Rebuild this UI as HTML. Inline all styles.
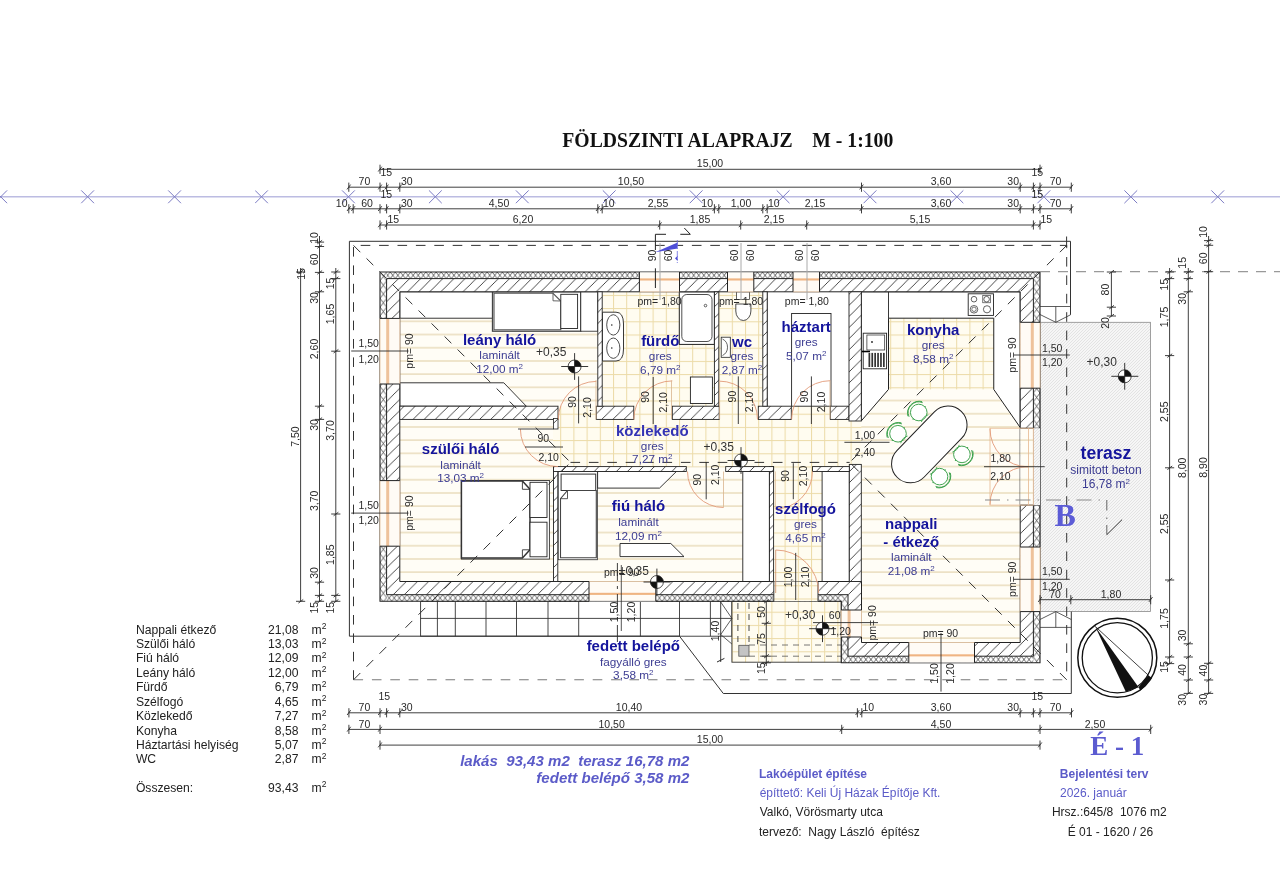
<!DOCTYPE html><html><head><meta charset="utf-8"><title>Földszinti alaprajz</title><style>html,body{margin:0;padding:0;background:#fff;width:1280px;height:874px;overflow:hidden}</style></head><body><svg width="1280" height="874" viewBox="0 0 1280 874" style="display:block;will-change:transform"><defs><pattern id="hatch" patternUnits="userSpaceOnUse" width="11.1" height="11.1"><rect width="11.1" height="11.1" fill="#fff"/><path d="M-1,12.1 L12.1,-1 M-1,1 L1,-1 M10.1,12.1 L12.1,10.1" stroke="#333" stroke-width="0.9"/></pattern><pattern id="lam" patternUnits="userSpaceOnUse" x="0" y="334.5" width="20" height="13.2"><rect width="20" height="13.2" fill="#fffdf6"/><rect x="0" y="-0.6" width="20" height="1.3" fill="#e6d8b4"/><rect x="0" y="12.6" width="20" height="1.3" fill="#e6d8b4"/></pattern><pattern id="tile" patternUnits="userSpaceOnUse" x="613" y="334.5" width="13.2" height="13.2"><rect width="13.2" height="13.2" fill="#fffcf0"/><rect x="0" y="0" width="13.2" height="1" fill="#ecdba8"/><rect x="0" y="0" width="1" height="13.2" fill="#ecdba8"/></pattern><pattern id="ter" patternUnits="userSpaceOnUse" width="3" height="3"><rect width="3" height="3" fill="#f6f6f6"/><path d="M-1,4 L4,-1 M-1,1 L1,-1 M2,4 L4,2" stroke="#dedede" stroke-width="0.8"/></pattern><pattern id="iH1" patternUnits="userSpaceOnUse" x="380.00" y="272.00" width="5.1" height="6.60"><rect width="5.1" height="6.60" fill="#fff"/><path d="M0,0 L5.1,6.60 M5.1,0 L0,6.60" stroke="#333" stroke-width="0.75"/></pattern><pattern id="iH2" patternUnits="userSpaceOnUse" x="386.60" y="594.70" width="5.1" height="6.60"><rect width="5.1" height="6.60" fill="#fff"/><path d="M0,0 L5.1,6.60 M5.1,0 L0,6.60" stroke="#333" stroke-width="0.75"/></pattern><pattern id="iH3" patternUnits="userSpaceOnUse" x="848.00" y="656.20" width="5.1" height="6.60"><rect width="5.1" height="6.60" fill="#fff"/><path d="M0,0 L5.1,6.60 M5.1,0 L0,6.60" stroke="#333" stroke-width="0.75"/></pattern><pattern id="iV4" patternUnits="userSpaceOnUse" x="380.00" y="272.00" width="6.60" height="8.8"><rect width="6.60" height="8.8" fill="#fff"/><path d="M0,0 L6.60,8.8 M6.60,0 L0,8.8" stroke="#333" stroke-width="0.75"/></pattern><pattern id="iV5" patternUnits="userSpaceOnUse" x="1033.40" y="278.60" width="6.60" height="8.8"><rect width="6.60" height="8.8" fill="#fff"/><path d="M0,0 L6.60,8.8 M6.60,0 L0,8.8" stroke="#333" stroke-width="0.75"/></pattern><pattern id="iV6" patternUnits="userSpaceOnUse" x="841.30" y="594.70" width="6.70" height="8.8"><rect width="6.70" height="8.8" fill="#fff"/><path d="M0,0 L6.70,8.8 M6.70,0 L0,8.8" stroke="#333" stroke-width="0.75"/></pattern></defs><rect x="0.00" y="0.00" width="1280.00" height="874.00" fill="#fff" stroke="none" stroke-width="1" />
<rect x="1040.00" y="322.30" width="110.60" height="289.30" fill="url(#ter)" stroke="#8a8a8a" stroke-width="0.8" />
<rect x="420.60" y="601.30" width="311.30" height="34.90" fill="#fff" stroke="#333" stroke-width="0.9" />
<line x1="420.60" y1="618.40" x2="731.90" y2="618.40" stroke="#333" stroke-width="0.9" />
<line x1="437.40" y1="601.30" x2="437.40" y2="636.20" stroke="#333" stroke-width="0.9" />
<line x1="455.30" y1="601.30" x2="455.30" y2="636.20" stroke="#333" stroke-width="0.9" />
<line x1="486.00" y1="601.30" x2="486.00" y2="636.20" stroke="#333" stroke-width="0.9" />
<line x1="516.50" y1="601.30" x2="516.50" y2="636.20" stroke="#333" stroke-width="0.9" />
<line x1="548.00" y1="601.30" x2="548.00" y2="636.20" stroke="#333" stroke-width="0.9" />
<line x1="578.70" y1="601.30" x2="578.70" y2="636.20" stroke="#333" stroke-width="0.9" />
<line x1="640.40" y1="601.30" x2="640.40" y2="636.20" stroke="#333" stroke-width="0.9" />
<line x1="679.50" y1="601.30" x2="679.50" y2="636.20" stroke="#333" stroke-width="0.9" />
<line x1="710.40" y1="601.30" x2="710.40" y2="636.20" stroke="#333" stroke-width="0.9" />
<rect x="731.90" y="601.30" width="109.40" height="60.90" fill="url(#tile)" stroke="#333" stroke-width="0.9" />
<polygon points="399.80,291.80 1020.20,291.80 1020.20,642.50 861.50,642.50 861.50,581.50 399.80,581.50" fill="url(#lam)" stroke="none" stroke-width="1" />
<rect x="602.20" y="291.80" width="112.20" height="114.40" fill="url(#tile)" stroke="none" stroke-width="1" />
<rect x="718.80" y="291.80" width="44.00" height="114.40" fill="url(#tile)" stroke="none" stroke-width="1" />
<rect x="767.20" y="291.80" width="81.80" height="114.40" fill="#fff" stroke="none" stroke-width="1" />
<rect x="553.00" y="406.20" width="308.30" height="60.40" fill="url(#tile)" stroke="none" stroke-width="1" />
<rect x="773.60" y="466.60" width="75.70" height="114.90" fill="url(#tile)" stroke="none" stroke-width="1" />
<rect x="861.30" y="291.80" width="158.90" height="97.60" fill="url(#tile)" stroke="none" stroke-width="1" />
<rect x="399.80" y="291.80" width="92.70" height="26.40" fill="#fff" stroke="#222" stroke-width="0.9" />
<rect x="492.50" y="291.80" width="88.30" height="39.40" fill="#fff" stroke="#444" stroke-width="1.3" />
<polygon points="494.00,293.30 553.00,293.30 560.80,301.00 560.80,329.80 494.00,329.80" fill="#fff" stroke="#555" stroke-width="1.1" />
<polyline points="553.00,293.30 553.00,300.80 560.80,301.00" fill="none" stroke="#555" stroke-width="0.9" />
<rect x="560.80" y="294.30" width="16.80" height="34.20" fill="#fff" stroke="#222" stroke-width="0.9" />
<rect x="580.80" y="291.80" width="17.00" height="39.40" fill="#fff" stroke="#222" stroke-width="0.8" />
<polygon points="399.80,382.80 503.80,382.80 526.30,406.20 399.80,406.20" fill="#fff" stroke="#222" stroke-width="0.9" />
<rect x="461.40" y="480.50" width="88.00" height="78.60" fill="#fff" stroke="#333" stroke-width="0.9" />
<polygon points="461.40,481.10 522.40,481.10 530.00,489.30 530.00,549.80 522.40,557.90 461.40,557.90" fill="#fff" stroke="#333" stroke-width="1.5" />
<polyline points="522.40,481.10 522.40,489.30 530.00,489.30" fill="none" stroke="#333" stroke-width="0.9" />
<polyline points="522.40,557.90 522.40,549.80 530.00,549.80" fill="none" stroke="#333" stroke-width="0.9" />
<rect x="530.00" y="482.30" width="17.00" height="35.20" fill="#fff" stroke="#222" stroke-width="0.9" />
<rect x="530.00" y="522.20" width="17.00" height="34.60" fill="#fff" stroke="#222" stroke-width="0.9" />
<rect x="558.20" y="471.50" width="39.20" height="88.20" fill="#fff" stroke="#444" stroke-width="0.9" />
<rect x="561.10" y="474.10" width="34.60" height="16.40" fill="#fff" stroke="#333" stroke-width="1" />
<polygon points="567.50,490.50 596.30,490.50 596.30,557.80 560.50,557.80 560.50,498.70" fill="#fff" stroke="#444" stroke-width="1.1" />
<polyline points="567.50,490.50 567.50,498.70 560.50,498.70" fill="none" stroke="#444" stroke-width="0.9" />
<polygon points="597.60,471.50 676.40,471.50 659.50,488.10 597.60,488.10" fill="#fff" stroke="#222" stroke-width="0.9" />
<polygon points="620.00,543.50 670.80,543.50 684.00,556.60 620.00,556.60" fill="#fff" stroke="#222" stroke-width="0.9" />
<rect x="742.80" y="471.50" width="26.60" height="110.00" fill="#fff" stroke="#222" stroke-width="0.9" />
<rect x="822.10" y="471.50" width="27.20" height="110.00" fill="#fff" stroke="#222" stroke-width="0.9" />
<path d="M602.5,312.2 L616,312.2 Q623.5,312.2 623.5,324 L623.5,349 Q623.5,361 616,361 L602.5,361 Z" fill="#fff" stroke="#222" stroke-width="0.9"/>
<ellipse cx="613.3" cy="324.9" rx="6.6" ry="10.2" fill="#fff" stroke="#222" stroke-width="0.8"/>
<ellipse cx="613.3" cy="348.2" rx="6.6" ry="10.2" fill="#fff" stroke="#222" stroke-width="0.8"/>
<circle cx="611.8" cy="325" r="0.8" fill="#222"/><circle cx="611.8" cy="348" r="0.8" fill="#222"/>
<rect x="679.30" y="291.80" width="35.10" height="52.60" fill="#fff" stroke="#222" stroke-width="1" />
<rect x="681.8" y="294.5" width="30.2" height="47" rx="5" fill="#fff" stroke="#222" stroke-width="0.8"/>
<circle cx="705.5" cy="305.6" r="1.3" fill="none" stroke="#222" stroke-width="0.7"/>
<rect x="690.40" y="377.00" width="22.00" height="26.50" fill="#fff" stroke="#222" stroke-width="0.9" />
<rect x="736.50" y="291.80" width="13.00" height="7.70" fill="#fff" stroke="#222" stroke-width="0.7" />
<path d="M735.8,304 L750.9,304 L750.9,311 A7.55,9.5 0 0 1 735.8,311 Z" fill="#fff" stroke="#222" stroke-width="0.8"/>
<rect x="721.20" y="337.20" width="9.10" height="20.10" fill="#fff" stroke="#222" stroke-width="0.8" />
<path d="M722.5,339 A9,9.2 0 0 1 722.5,355.5" fill="none" stroke="#222" stroke-width="0.7"/>
<rect x="791.60" y="313.50" width="39.40" height="92.70" fill="none" stroke="#222" stroke-width="0.9" />
<line x1="767.20" y1="291.80" x2="767.20" y2="406.20" stroke="#222" stroke-width="0.8" />
<polygon points="861.30,291.80 1020.20,291.80 1020.20,427.50 993.75,389.40 993.75,318.20 888.50,318.20 888.50,389.40 861.30,420.90" fill="#fff" stroke="#222" stroke-width="1" />
<line x1="888.50" y1="291.80" x2="888.50" y2="318.20" stroke="#222" stroke-width="0.9" />
<rect x="968.20" y="293.80" width="25.30" height="21.60" fill="#fff" stroke="#222" stroke-width="0.9" />
<circle cx="974" cy="299.2" r="2.8" fill="none" stroke="#222" stroke-width="0.7"/>
<circle cx="986.6" cy="299.2" r="2.8" fill="none" stroke="#222" stroke-width="0.7"/>
<rect x="982.80" y="295.60" width="7.60" height="7.20" fill="none" stroke="#222" stroke-width="0.6" />
<circle cx="974" cy="309.3" r="3.8" fill="none" stroke="#222" stroke-width="0.7"/><circle cx="974" cy="309.3" r="2.2" fill="none" stroke="#222" stroke-width="0.6"/>
<circle cx="987" cy="309.3" r="3.6" fill="none" stroke="#222" stroke-width="0.7"/>
<rect x="863.20" y="333.20" width="23.40" height="35.60" fill="#fff" stroke="#222" stroke-width="0.9" />
<rect x="866.90" y="335.00" width="17.80" height="15.00" fill="#fff" stroke="#222" stroke-width="0.7" />
<circle cx="872" cy="342" r="0.9" fill="#222"/>
<rect x="868.50" y="352.90" width="1.70" height="14.10" fill="#333" stroke="none" stroke-width="1" />
<rect x="871.40" y="352.90" width="1.70" height="14.10" fill="#333" stroke="none" stroke-width="1" />
<rect x="874.30" y="352.90" width="1.70" height="14.10" fill="#333" stroke="none" stroke-width="1" />
<rect x="877.20" y="352.90" width="1.70" height="14.10" fill="#333" stroke="none" stroke-width="1" />
<rect x="880.10" y="352.90" width="1.70" height="14.10" fill="#333" stroke="none" stroke-width="1" />
<rect x="883.00" y="352.90" width="1.70" height="14.10" fill="#333" stroke="none" stroke-width="1" />
<line x1="861.30" y1="351.50" x2="870.00" y2="351.50" stroke="#000" stroke-width="1.6" />
<g transform="translate(929.3,444.4) rotate(-46)"><rect x="-46" y="-19" width="92" height="38" rx="19" ry="19" fill="#fff" stroke="#222" stroke-width="1"/></g>
<g transform="translate(918.75,412.50) rotate(-136.0)"><circle r="8.3" fill="#fff" stroke="#3aa04a" stroke-width="0.9"/><path d="M-8.5,-5 A10,10 0 0 1 -8.5,5" fill="none" stroke="#3aa04a" stroke-width="0.8"/><path d="M4,-9.8 A10.6,10.6 0 0 1 4,9.8" fill="none" stroke="#3aa04a" stroke-width="0.9"/><path d="M5.2,-10.2 A11.8,11.8 0 0 1 5.2,10.2" fill="none" stroke="#3aa04a" stroke-width="0.9"/><path d="M-1,-9 L0,-8.3 M-1,9 L0,8.3" stroke="#3aa04a" stroke-width="1.2"/></g>
<g transform="translate(898.00,433.75) rotate(-136.0)"><circle r="8.3" fill="#fff" stroke="#3aa04a" stroke-width="0.9"/><path d="M-8.5,-5 A10,10 0 0 1 -8.5,5" fill="none" stroke="#3aa04a" stroke-width="0.8"/><path d="M4,-9.8 A10.6,10.6 0 0 1 4,9.8" fill="none" stroke="#3aa04a" stroke-width="0.9"/><path d="M5.2,-10.2 A11.8,11.8 0 0 1 5.2,10.2" fill="none" stroke="#3aa04a" stroke-width="0.9"/><path d="M-1,-9 L0,-8.3 M-1,9 L0,8.3" stroke="#3aa04a" stroke-width="1.2"/></g>
<g transform="translate(961.90,454.40) rotate(44.0)"><circle r="8.3" fill="#fff" stroke="#3aa04a" stroke-width="0.9"/><path d="M-8.5,-5 A10,10 0 0 1 -8.5,5" fill="none" stroke="#3aa04a" stroke-width="0.8"/><path d="M4,-9.8 A10.6,10.6 0 0 1 4,9.8" fill="none" stroke="#3aa04a" stroke-width="0.9"/><path d="M5.2,-10.2 A11.8,11.8 0 0 1 5.2,10.2" fill="none" stroke="#3aa04a" stroke-width="0.9"/><path d="M-1,-9 L0,-8.3 M-1,9 L0,8.3" stroke="#3aa04a" stroke-width="1.2"/></g>
<g transform="translate(939.50,476.60) rotate(44.0)"><circle r="8.3" fill="#fff" stroke="#3aa04a" stroke-width="0.9"/><path d="M-8.5,-5 A10,10 0 0 1 -8.5,5" fill="none" stroke="#3aa04a" stroke-width="0.8"/><path d="M4,-9.8 A10.6,10.6 0 0 1 4,9.8" fill="none" stroke="#3aa04a" stroke-width="0.9"/><path d="M5.2,-10.2 A11.8,11.8 0 0 1 5.2,10.2" fill="none" stroke="#3aa04a" stroke-width="0.9"/><path d="M-1,-9 L0,-8.3 M-1,9 L0,8.3" stroke="#3aa04a" stroke-width="1.2"/></g>
<rect x="738.80" y="645.30" width="10.20" height="10.90" fill="#c4c4c4" stroke="#555" stroke-width="0.8" />
<line x1="737.90" y1="603.00" x2="737.90" y2="645.00" stroke="#333" stroke-width="0.9" stroke-dasharray="6,5"/>
<line x1="749.00" y1="603.00" x2="749.00" y2="645.00" stroke="#333" stroke-width="0.9" stroke-dasharray="6,5"/>
<line x1="749.00" y1="645.00" x2="841.00" y2="645.00" stroke="#555" stroke-width="0.8" stroke-dasharray="6,5"/>
<line x1="749.00" y1="656.20" x2="841.00" y2="656.20" stroke="#555" stroke-width="0.8" stroke-dasharray="6,5"/>
<polyline points="720.70,602.00 731.90,618.40 720.70,634.50" fill="none" stroke="#333" stroke-width="0.8" />
<line x1="720.70" y1="634.50" x2="731.90" y2="644.00" stroke="#333" stroke-width="0.8" />
<rect x="380.00" y="272.00" width="660.00" height="6.60" fill="url(#iH1)" stroke="none" stroke-width="1" />
<rect x="386.60" y="594.70" width="454.70" height="6.60" fill="url(#iH2)" stroke="none" stroke-width="1" />
<rect x="848.00" y="656.20" width="192.00" height="6.60" fill="url(#iH3)" stroke="none" stroke-width="1" />
<rect x="380.00" y="272.00" width="6.60" height="329.30" fill="url(#iV4)" stroke="none" stroke-width="1" />
<rect x="1033.40" y="278.60" width="6.60" height="384.20" fill="url(#iV5)" stroke="none" stroke-width="1" />
<rect x="841.30" y="594.70" width="6.70" height="68.10" fill="url(#iV6)" stroke="none" stroke-width="1" />
<path d="M386.60,278.60 L1033.40,278.60 L1033.40,656.20 L848.00,656.20 L848.00,594.70 L386.60,594.70 Z M399.80,291.80 L1020.20,291.80 L1020.20,642.50 L861.50,642.50 L861.50,581.50 L399.80,581.50 Z" fill="url(#hatch)" fill-rule="evenodd" stroke="#222" stroke-width="1"/>
<polygon points="380.00,272.00 1040.00,272.00 1040.00,662.80 841.30,662.80 841.30,601.30 380.00,601.30" fill="none" stroke="#222" stroke-width="1.1" />
<rect x="399.80" y="406.20" width="158.20" height="13.20" fill="url(#hatch)" stroke="#222" stroke-width="0.9" />
<rect x="553.40" y="418.40" width="4.60" height="10.60" fill="url(#hatch)" stroke="#222" stroke-width="0.8" />
<rect x="596.30" y="406.20" width="37.50" height="13.20" fill="url(#hatch)" stroke="#222" stroke-width="0.9" />
<rect x="672.30" y="406.20" width="46.90" height="13.20" fill="url(#hatch)" stroke="#222" stroke-width="0.9" />
<rect x="758.30" y="406.20" width="33.00" height="13.20" fill="url(#hatch)" stroke="#222" stroke-width="0.9" />
<rect x="830.30" y="406.20" width="18.70" height="13.20" fill="url(#hatch)" stroke="#222" stroke-width="0.9" />
<rect x="849.00" y="291.80" width="12.30" height="129.20" fill="url(#hatch)" stroke="#222" stroke-width="0.9" />
<rect x="849.30" y="464.40" width="12.00" height="117.10" fill="url(#hatch)" stroke="#222" stroke-width="0.9" />
<rect x="597.80" y="291.80" width="4.40" height="114.40" fill="url(#hatch)" stroke="#222" stroke-width="0.9" />
<rect x="714.40" y="291.80" width="4.40" height="114.40" fill="url(#hatch)" stroke="#222" stroke-width="0.9" />
<rect x="762.80" y="291.80" width="4.40" height="114.40" fill="url(#hatch)" stroke="#222" stroke-width="0.9" />
<rect x="553.50" y="466.60" width="4.30" height="114.90" fill="url(#hatch)" stroke="#222" stroke-width="0.9" />
<rect x="769.40" y="466.60" width="4.20" height="114.90" fill="url(#hatch)" stroke="#222" stroke-width="0.9" />
<rect x="553.50" y="466.60" width="132.80" height="4.90" fill="url(#hatch)" stroke="#222" stroke-width="0.9" />
<rect x="725.70" y="466.60" width="47.90" height="4.90" fill="url(#hatch)" stroke="#222" stroke-width="0.9" />
<rect x="812.50" y="466.60" width="36.80" height="4.90" fill="url(#hatch)" stroke="#222" stroke-width="0.9" />
<rect x="639.40" y="272.00" width="40.10" height="19.80" fill="#fffbf5" stroke="none" stroke-width="1" />
<line x1="639.40" y1="272.00" x2="679.50" y2="272.00" stroke="#999" stroke-width="0.9" />
<line x1="639.40" y1="291.80" x2="679.50" y2="291.80" stroke="#e2c4a4" stroke-width="0.9" />
<rect x="639.40" y="278.40" width="40.10" height="2.10" fill="#efb482" stroke="none" stroke-width="1" />
<line x1="639.40" y1="272.00" x2="639.40" y2="291.80" stroke="#222" stroke-width="1" />
<line x1="679.50" y1="272.00" x2="679.50" y2="291.80" stroke="#222" stroke-width="1" />
<rect x="727.50" y="272.00" width="26.30" height="19.80" fill="#fffbf5" stroke="none" stroke-width="1" />
<line x1="727.50" y1="272.00" x2="753.80" y2="272.00" stroke="#999" stroke-width="0.9" />
<line x1="727.50" y1="291.80" x2="753.80" y2="291.80" stroke="#e2c4a4" stroke-width="0.9" />
<rect x="727.50" y="278.40" width="26.30" height="2.10" fill="#efb482" stroke="none" stroke-width="1" />
<line x1="727.50" y1="272.00" x2="727.50" y2="291.80" stroke="#222" stroke-width="1" />
<line x1="753.80" y1="272.00" x2="753.80" y2="291.80" stroke="#222" stroke-width="1" />
<rect x="793.00" y="272.00" width="26.50" height="19.80" fill="#fffbf5" stroke="none" stroke-width="1" />
<line x1="793.00" y1="272.00" x2="819.50" y2="272.00" stroke="#999" stroke-width="0.9" />
<line x1="793.00" y1="291.80" x2="819.50" y2="291.80" stroke="#e2c4a4" stroke-width="0.9" />
<rect x="793.00" y="278.40" width="26.50" height="2.10" fill="#efb482" stroke="none" stroke-width="1" />
<line x1="793.00" y1="272.00" x2="793.00" y2="291.80" stroke="#222" stroke-width="1" />
<line x1="819.50" y1="272.00" x2="819.50" y2="291.80" stroke="#222" stroke-width="1" />
<rect x="380.00" y="318.40" width="19.80" height="65.60" fill="#fffbf5" stroke="none" stroke-width="1" />
<line x1="380.00" y1="318.40" x2="380.00" y2="384.00" stroke="#e2c4a4" stroke-width="0.9" />
<line x1="399.80" y1="318.40" x2="399.80" y2="384.00" stroke="#e2c4a4" stroke-width="0.9" />
<rect x="386.20" y="318.40" width="3.00" height="65.60" fill="#eec29c" stroke="none" stroke-width="1" />
<line x1="380.00" y1="318.40" x2="399.80" y2="318.40" stroke="#222" stroke-width="1" />
<line x1="380.00" y1="384.00" x2="399.80" y2="384.00" stroke="#222" stroke-width="1" />
<rect x="380.00" y="480.60" width="19.80" height="65.60" fill="#fffbf5" stroke="none" stroke-width="1" />
<line x1="380.00" y1="480.60" x2="380.00" y2="546.20" stroke="#e2c4a4" stroke-width="0.9" />
<line x1="399.80" y1="480.60" x2="399.80" y2="546.20" stroke="#e2c4a4" stroke-width="0.9" />
<rect x="386.20" y="480.60" width="3.00" height="65.60" fill="#eec29c" stroke="none" stroke-width="1" />
<line x1="380.00" y1="480.60" x2="399.80" y2="480.60" stroke="#222" stroke-width="1" />
<line x1="380.00" y1="546.20" x2="399.80" y2="546.20" stroke="#222" stroke-width="1" />
<rect x="1020.20" y="322.30" width="19.80" height="65.90" fill="#fffbf5" stroke="none" stroke-width="1" />
<line x1="1040.00" y1="322.30" x2="1040.00" y2="388.20" stroke="#e2c4a4" stroke-width="0.9" />
<line x1="1020.20" y1="322.30" x2="1020.20" y2="388.20" stroke="#e2c4a4" stroke-width="0.9" />
<rect x="1030.80" y="322.30" width="3.00" height="65.90" fill="#eec29c" stroke="none" stroke-width="1" />
<line x1="1020.20" y1="322.30" x2="1040.00" y2="322.30" stroke="#222" stroke-width="1" />
<line x1="1020.20" y1="388.20" x2="1040.00" y2="388.20" stroke="#222" stroke-width="1" />
<rect x="1020.20" y="547.00" width="19.80" height="64.60" fill="#fffbf5" stroke="none" stroke-width="1" />
<line x1="1040.00" y1="547.00" x2="1040.00" y2="611.60" stroke="#e2c4a4" stroke-width="0.9" />
<line x1="1020.20" y1="547.00" x2="1020.20" y2="611.60" stroke="#e2c4a4" stroke-width="0.9" />
<rect x="1030.80" y="547.00" width="3.00" height="64.60" fill="#eec29c" stroke="none" stroke-width="1" />
<line x1="1020.20" y1="547.00" x2="1040.00" y2="547.00" stroke="#222" stroke-width="1" />
<line x1="1020.20" y1="611.60" x2="1040.00" y2="611.60" stroke="#222" stroke-width="1" />
<rect x="589.00" y="581.50" width="66.80" height="19.80" fill="#fffbf5" stroke="none" stroke-width="1" />
<line x1="589.00" y1="601.30" x2="655.80" y2="601.30" stroke="#999" stroke-width="0.9" />
<line x1="589.00" y1="581.50" x2="655.80" y2="581.50" stroke="#e2c4a4" stroke-width="0.9" />
<rect x="589.00" y="592.80" width="66.80" height="2.10" fill="#efb482" stroke="none" stroke-width="1" />
<line x1="589.00" y1="581.50" x2="589.00" y2="601.30" stroke="#222" stroke-width="1" />
<line x1="655.80" y1="581.50" x2="655.80" y2="601.30" stroke="#222" stroke-width="1" />
<rect x="908.80" y="642.50" width="65.70" height="20.30" fill="#fffbf5" stroke="none" stroke-width="1" />
<line x1="908.80" y1="662.80" x2="974.50" y2="662.80" stroke="#999" stroke-width="0.9" />
<line x1="908.80" y1="642.50" x2="974.50" y2="642.50" stroke="#e2c4a4" stroke-width="0.9" />
<rect x="908.80" y="654.30" width="65.70" height="2.10" fill="#efb482" stroke="none" stroke-width="1" />
<line x1="908.80" y1="642.50" x2="908.80" y2="662.80" stroke="#222" stroke-width="1" />
<line x1="974.50" y1="642.50" x2="974.50" y2="662.80" stroke="#222" stroke-width="1" />
<rect x="841.30" y="610.00" width="20.20" height="27.00" fill="#fffbf5" stroke="none" stroke-width="1" />
<line x1="841.30" y1="610.00" x2="841.30" y2="637.00" stroke="#e2c4a4" stroke-width="0.9" />
<line x1="861.50" y1="610.00" x2="861.50" y2="637.00" stroke="#e2c4a4" stroke-width="0.9" />
<rect x="847.60" y="610.00" width="3.00" height="27.00" fill="#eec29c" stroke="none" stroke-width="1" />
<line x1="841.30" y1="610.00" x2="861.50" y2="610.00" stroke="#222" stroke-width="1" />
<line x1="841.30" y1="637.00" x2="861.50" y2="637.00" stroke="#222" stroke-width="1" />
<rect x="1020.20" y="428.20" width="13.20" height="76.90" fill="url(#lam)" stroke="none" stroke-width="1" />
<line x1="1020.20" y1="428.20" x2="1040.00" y2="428.20" stroke="#333" stroke-width="1" />
<line x1="1020.20" y1="505.10" x2="1040.00" y2="505.10" stroke="#333" stroke-width="1" />
<rect x="773.80" y="581.50" width="44.20" height="19.80" fill="url(#tile)" stroke="none" stroke-width="1" />
<line x1="773.80" y1="581.50" x2="773.80" y2="601.30" stroke="#333" stroke-width="1" />
<line x1="818.00" y1="581.50" x2="818.00" y2="601.30" stroke="#333" stroke-width="1" />
<path d="M558.3,419.4 A38,38 0 0 1 596.3,381.4" fill="none" stroke="#e29a78" stroke-width="0.9"/>
<path d="M633.8,419.4 A38.5,38.5 0 0 1 672.3,380.9" fill="none" stroke="#e29a78" stroke-width="0.9"/>
<path d="M719.2,381.1 A38.3,38.3 0 0 1 757.5,419.4" fill="none" stroke="#e29a78" stroke-width="0.9"/>
<path d="M791.6,419.4 A38.7,38.7 0 0 1 830.3,380.7" fill="none" stroke="#e29a78" stroke-width="0.9"/>
<path d="M520.4,429 A37.6,37.6 0 0 0 558,466.6" fill="none" stroke="#e29a78" stroke-width="0.9"/>
<path d="M687.5,471.5 A36,36 0 0 0 723.5,507.5" fill="none" stroke="#e29a78" stroke-width="0.9"/>
<path d="M812.5,471.5 A37.5,37.5 0 0 1 775,509" fill="none" stroke="#e29a78" stroke-width="0.9"/>
<path d="M775.7,550 A43,43 0 0 1 818.7,593" fill="none" stroke="#e29a78" stroke-width="0.9"/>
<rect x="1033.40" y="428.20" width="6.60" height="76.90" fill="url(#ter)" stroke="none" stroke-width="1" />
<rect x="990.00" y="428.20" width="43.30" height="76.90" fill="none" stroke="#e6b890" stroke-width="0.8" />
<line x1="1028.50" y1="428.20" x2="1028.50" y2="505.10" stroke="#e6b890" stroke-width="0.8" />
<path d="M990,428.8 A38,38 0 0 0 1028,466.8" fill="none" stroke="#e29a78" stroke-width="0.9"/>
<path d="M990,504.6 A38,38 0 0 1 1028,466.6" fill="none" stroke="#e29a78" stroke-width="0.9"/>
<line x1="518.00" y1="429.00" x2="553.40" y2="429.00" stroke="#333" stroke-width="0.9" />
<line x1="596.00" y1="380.00" x2="596.00" y2="419.40" stroke="#d9b48e" stroke-width="0.8" />
<line x1="671.50" y1="380.50" x2="671.50" y2="419.00" stroke="#d9b48e" stroke-width="0.8" />
<line x1="719.60" y1="381.00" x2="719.60" y2="419.00" stroke="#d9b48e" stroke-width="0.8" />
<line x1="830.00" y1="380.70" x2="830.00" y2="419.00" stroke="#d9b48e" stroke-width="0.8" />
<line x1="723.50" y1="471.50" x2="723.50" y2="507.50" stroke="#d9b48e" stroke-width="0.8" />
<line x1="775.30" y1="471.50" x2="775.30" y2="509.00" stroke="#d9b48e" stroke-width="0.8" />
<line x1="775.70" y1="550.00" x2="775.70" y2="593.00" stroke="#c98a66" stroke-width="0.8" />
<polyline points="353.50,679.80 353.50,245.40 1066.70,245.40 1066.70,679.80" fill="none" stroke="#333" stroke-width="1" stroke-dasharray="9.6,8.8"/>
<line x1="353.50" y1="679.80" x2="1066.70" y2="679.80" stroke="#7a7a7a" stroke-width="1.1" stroke-dasharray="9.6,8.8"/>
<line x1="353.50" y1="245.40" x2="570.50" y2="462.40" stroke="#333" stroke-width="1" stroke-dasharray="9.6,8.8"/>
<line x1="353.50" y1="679.80" x2="570.50" y2="462.40" stroke="#333" stroke-width="1" stroke-dasharray="9.6,8.8"/>
<line x1="1066.70" y1="245.40" x2="849.70" y2="462.40" stroke="#333" stroke-width="1" stroke-dasharray="9.6,8.8"/>
<line x1="1066.70" y1="679.80" x2="849.70" y2="462.40" stroke="#333" stroke-width="1" stroke-dasharray="9.6,8.8"/>
<line x1="570.50" y1="462.40" x2="849.70" y2="462.40" stroke="#333" stroke-width="1" stroke-dasharray="9.6,8.8"/>
<polyline points="349.40,636.20 349.40,241.30 1070.50,241.30 1070.50,314.80" fill="none" stroke="#333" stroke-width="1" />
<polyline points="349.40,636.20 679.50,636.20 723.30,693.50 1071.30,693.50 1071.30,611.60" fill="none" stroke="#333" stroke-width="1" />
<line x1="1066.60" y1="236.50" x2="1066.60" y2="247.00" stroke="#333" stroke-width="1" />
<polyline points="1040.00,306.50 1070.50,306.50" fill="none" stroke="#333" stroke-width="0.8" />
<polyline points="1040.00,314.50 1055.80,322.30 1070.50,314.80" fill="none" stroke="#333" stroke-width="0.8" />
<line x1="1055.80" y1="306.50" x2="1055.80" y2="322.30" stroke="#333" stroke-width="0.8" />
<polyline points="1040.00,627.40 1071.30,627.40" fill="none" stroke="#333" stroke-width="0.8" />
<polyline points="1040.00,619.50 1055.80,611.60 1071.30,619.50" fill="none" stroke="#333" stroke-width="0.8" />
<line x1="1055.80" y1="611.60" x2="1055.80" y2="627.40" stroke="#333" stroke-width="0.8" />
<line x1="1040.00" y1="271.60" x2="1280.00" y2="271.60" stroke="#999" stroke-width="1.2" stroke-dasharray="10,8"/>
<line x1="0.00" y1="196.80" x2="1280.00" y2="196.80" stroke="#bcbce2" stroke-width="1.5" />
<path d="M-5.70,190.40 L7.10,203.20 M-5.70,203.20 L7.10,190.40" stroke="#7c7cc4" stroke-width="1"/>
<path d="M81.23,190.40 L94.03,203.20 M81.23,203.20 L94.03,190.40" stroke="#7c7cc4" stroke-width="1"/>
<path d="M168.16,190.40 L180.96,203.20 M168.16,203.20 L180.96,190.40" stroke="#7c7cc4" stroke-width="1"/>
<path d="M255.09,190.40 L267.89,203.20 M255.09,203.20 L267.89,190.40" stroke="#7c7cc4" stroke-width="1"/>
<path d="M342.02,190.40 L354.82,203.20 M342.02,203.20 L354.82,190.40" stroke="#7c7cc4" stroke-width="1"/>
<path d="M428.95,190.40 L441.75,203.20 M428.95,203.20 L441.75,190.40" stroke="#7c7cc4" stroke-width="1"/>
<path d="M515.88,190.40 L528.68,203.20 M515.88,203.20 L528.68,190.40" stroke="#7c7cc4" stroke-width="1"/>
<path d="M602.81,190.40 L615.61,203.20 M602.81,203.20 L615.61,190.40" stroke="#7c7cc4" stroke-width="1"/>
<path d="M689.74,190.40 L702.54,203.20 M689.74,203.20 L702.54,190.40" stroke="#7c7cc4" stroke-width="1"/>
<path d="M776.67,190.40 L789.47,203.20 M776.67,203.20 L789.47,190.40" stroke="#7c7cc4" stroke-width="1"/>
<path d="M863.60,190.40 L876.40,203.20 M863.60,203.20 L876.40,190.40" stroke="#7c7cc4" stroke-width="1"/>
<path d="M950.53,190.40 L963.33,203.20 M950.53,203.20 L963.33,190.40" stroke="#7c7cc4" stroke-width="1"/>
<path d="M1037.46,190.40 L1050.26,203.20 M1037.46,203.20 L1050.26,190.40" stroke="#7c7cc4" stroke-width="1"/>
<path d="M1124.39,190.40 L1137.19,203.20 M1124.39,203.20 L1137.19,190.40" stroke="#7c7cc4" stroke-width="1"/>
<path d="M1211.32,190.40 L1224.12,203.20 M1211.32,203.20 L1224.12,190.40" stroke="#7c7cc4" stroke-width="1"/>
<line x1="380.00" y1="169.30" x2="1040.00" y2="169.30" stroke="#2a2a2a" stroke-width="0.9" />
<line x1="380.00" y1="164.70" x2="380.00" y2="173.90" stroke="#2a2a2a" stroke-width="0.9" />
<line x1="378.20" y1="171.50" x2="381.80" y2="166.70" stroke="#2a2a2a" stroke-width="0.9" />
<line x1="1040.00" y1="164.70" x2="1040.00" y2="173.90" stroke="#2a2a2a" stroke-width="0.9" />
<line x1="1038.20" y1="171.50" x2="1041.80" y2="166.70" stroke="#2a2a2a" stroke-width="0.9" />
<text x="710.00" y="167.40" font-family='"Liberation Sans", sans-serif' font-size="10.5" fill="#2a2a2a" text-anchor="middle" font-weight="normal" font-style="normal" >15,00</text>
<text x="380.50" y="176.00" font-family='"Liberation Sans", sans-serif' font-size="10.5" fill="#2a2a2a" text-anchor="start" font-weight="normal" font-style="normal" >15</text>
<text x="1031.50" y="176.00" font-family='"Liberation Sans", sans-serif' font-size="10.5" fill="#2a2a2a" text-anchor="start" font-weight="normal" font-style="normal" >15</text>
<line x1="348.80" y1="187.20" x2="1071.30" y2="187.20" stroke="#2a2a2a" stroke-width="0.9" />
<line x1="348.80" y1="182.60" x2="348.80" y2="191.80" stroke="#2a2a2a" stroke-width="0.9" />
<line x1="347.00" y1="189.40" x2="350.60" y2="184.60" stroke="#2a2a2a" stroke-width="0.9" />
<line x1="380.00" y1="182.60" x2="380.00" y2="191.80" stroke="#2a2a2a" stroke-width="0.9" />
<line x1="378.20" y1="189.40" x2="381.80" y2="184.60" stroke="#2a2a2a" stroke-width="0.9" />
<line x1="386.60" y1="182.60" x2="386.60" y2="191.80" stroke="#2a2a2a" stroke-width="0.9" />
<line x1="384.80" y1="189.40" x2="388.40" y2="184.60" stroke="#2a2a2a" stroke-width="0.9" />
<line x1="399.80" y1="182.60" x2="399.80" y2="191.80" stroke="#2a2a2a" stroke-width="0.9" />
<line x1="398.00" y1="189.40" x2="401.60" y2="184.60" stroke="#2a2a2a" stroke-width="0.9" />
<line x1="861.50" y1="182.60" x2="861.50" y2="191.80" stroke="#2a2a2a" stroke-width="0.9" />
<line x1="859.70" y1="189.40" x2="863.30" y2="184.60" stroke="#2a2a2a" stroke-width="0.9" />
<line x1="1020.20" y1="182.60" x2="1020.20" y2="191.80" stroke="#2a2a2a" stroke-width="0.9" />
<line x1="1018.40" y1="189.40" x2="1022.00" y2="184.60" stroke="#2a2a2a" stroke-width="0.9" />
<line x1="1033.40" y1="182.60" x2="1033.40" y2="191.80" stroke="#2a2a2a" stroke-width="0.9" />
<line x1="1031.60" y1="189.40" x2="1035.20" y2="184.60" stroke="#2a2a2a" stroke-width="0.9" />
<line x1="1040.00" y1="182.60" x2="1040.00" y2="191.80" stroke="#2a2a2a" stroke-width="0.9" />
<line x1="1038.20" y1="189.40" x2="1041.80" y2="184.60" stroke="#2a2a2a" stroke-width="0.9" />
<line x1="1071.30" y1="182.60" x2="1071.30" y2="191.80" stroke="#2a2a2a" stroke-width="0.9" />
<line x1="1069.50" y1="189.40" x2="1073.10" y2="184.60" stroke="#2a2a2a" stroke-width="0.9" />
<text x="364.40" y="185.30" font-family='"Liberation Sans", sans-serif' font-size="10.5" fill="#2a2a2a" text-anchor="middle" font-weight="normal" font-style="normal" >70</text>
<text x="401.00" y="185.30" font-family='"Liberation Sans", sans-serif' font-size="10.5" fill="#2a2a2a" text-anchor="start" font-weight="normal" font-style="normal" >30</text>
<text x="631.00" y="185.30" font-family='"Liberation Sans", sans-serif' font-size="10.5" fill="#2a2a2a" text-anchor="middle" font-weight="normal" font-style="normal" >10,50</text>
<text x="941.00" y="185.30" font-family='"Liberation Sans", sans-serif' font-size="10.5" fill="#2a2a2a" text-anchor="middle" font-weight="normal" font-style="normal" >3,60</text>
<text x="1019.00" y="185.30" font-family='"Liberation Sans", sans-serif' font-size="10.5" fill="#2a2a2a" text-anchor="end" font-weight="normal" font-style="normal" >30</text>
<text x="1055.50" y="185.30" font-family='"Liberation Sans", sans-serif' font-size="10.5" fill="#2a2a2a" text-anchor="middle" font-weight="normal" font-style="normal" >70</text>
<text x="380.50" y="197.50" font-family='"Liberation Sans", sans-serif' font-size="10.5" fill="#2a2a2a" text-anchor="start" font-weight="normal" font-style="normal" >15</text>
<text x="1031.50" y="197.50" font-family='"Liberation Sans", sans-serif' font-size="10.5" fill="#2a2a2a" text-anchor="start" font-weight="normal" font-style="normal" >15</text>
<line x1="348.80" y1="208.80" x2="1071.30" y2="208.80" stroke="#2a2a2a" stroke-width="0.9" />
<line x1="348.80" y1="204.20" x2="348.80" y2="213.40" stroke="#2a2a2a" stroke-width="0.9" />
<line x1="347.00" y1="211.00" x2="350.60" y2="206.20" stroke="#2a2a2a" stroke-width="0.9" />
<line x1="353.20" y1="204.20" x2="353.20" y2="213.40" stroke="#2a2a2a" stroke-width="0.9" />
<line x1="351.40" y1="211.00" x2="355.00" y2="206.20" stroke="#2a2a2a" stroke-width="0.9" />
<line x1="380.00" y1="204.20" x2="380.00" y2="213.40" stroke="#2a2a2a" stroke-width="0.9" />
<line x1="378.20" y1="211.00" x2="381.80" y2="206.20" stroke="#2a2a2a" stroke-width="0.9" />
<line x1="386.60" y1="204.20" x2="386.60" y2="213.40" stroke="#2a2a2a" stroke-width="0.9" />
<line x1="384.80" y1="211.00" x2="388.40" y2="206.20" stroke="#2a2a2a" stroke-width="0.9" />
<line x1="399.80" y1="204.20" x2="399.80" y2="213.40" stroke="#2a2a2a" stroke-width="0.9" />
<line x1="398.00" y1="211.00" x2="401.60" y2="206.20" stroke="#2a2a2a" stroke-width="0.9" />
<line x1="597.80" y1="204.20" x2="597.80" y2="213.40" stroke="#2a2a2a" stroke-width="0.9" />
<line x1="596.00" y1="211.00" x2="599.60" y2="206.20" stroke="#2a2a2a" stroke-width="0.9" />
<line x1="602.20" y1="204.20" x2="602.20" y2="213.40" stroke="#2a2a2a" stroke-width="0.9" />
<line x1="600.40" y1="211.00" x2="604.00" y2="206.20" stroke="#2a2a2a" stroke-width="0.9" />
<line x1="714.40" y1="204.20" x2="714.40" y2="213.40" stroke="#2a2a2a" stroke-width="0.9" />
<line x1="712.60" y1="211.00" x2="716.20" y2="206.20" stroke="#2a2a2a" stroke-width="0.9" />
<line x1="718.80" y1="204.20" x2="718.80" y2="213.40" stroke="#2a2a2a" stroke-width="0.9" />
<line x1="717.00" y1="211.00" x2="720.60" y2="206.20" stroke="#2a2a2a" stroke-width="0.9" />
<line x1="762.80" y1="204.20" x2="762.80" y2="213.40" stroke="#2a2a2a" stroke-width="0.9" />
<line x1="761.00" y1="211.00" x2="764.60" y2="206.20" stroke="#2a2a2a" stroke-width="0.9" />
<line x1="767.20" y1="204.20" x2="767.20" y2="213.40" stroke="#2a2a2a" stroke-width="0.9" />
<line x1="765.40" y1="211.00" x2="769.00" y2="206.20" stroke="#2a2a2a" stroke-width="0.9" />
<line x1="861.50" y1="204.20" x2="861.50" y2="213.40" stroke="#2a2a2a" stroke-width="0.9" />
<line x1="859.70" y1="211.00" x2="863.30" y2="206.20" stroke="#2a2a2a" stroke-width="0.9" />
<line x1="1020.20" y1="204.20" x2="1020.20" y2="213.40" stroke="#2a2a2a" stroke-width="0.9" />
<line x1="1018.40" y1="211.00" x2="1022.00" y2="206.20" stroke="#2a2a2a" stroke-width="0.9" />
<line x1="1033.40" y1="204.20" x2="1033.40" y2="213.40" stroke="#2a2a2a" stroke-width="0.9" />
<line x1="1031.60" y1="211.00" x2="1035.20" y2="206.20" stroke="#2a2a2a" stroke-width="0.9" />
<line x1="1040.00" y1="204.20" x2="1040.00" y2="213.40" stroke="#2a2a2a" stroke-width="0.9" />
<line x1="1038.20" y1="211.00" x2="1041.80" y2="206.20" stroke="#2a2a2a" stroke-width="0.9" />
<line x1="1071.30" y1="204.20" x2="1071.30" y2="213.40" stroke="#2a2a2a" stroke-width="0.9" />
<line x1="1069.50" y1="211.00" x2="1073.10" y2="206.20" stroke="#2a2a2a" stroke-width="0.9" />
<text x="347.50" y="206.80" font-family='"Liberation Sans", sans-serif' font-size="10.5" fill="#2a2a2a" text-anchor="end" font-weight="normal" font-style="normal" >10</text>
<text x="367.00" y="206.80" font-family='"Liberation Sans", sans-serif' font-size="10.5" fill="#2a2a2a" text-anchor="middle" font-weight="normal" font-style="normal" >60</text>
<text x="401.00" y="206.80" font-family='"Liberation Sans", sans-serif' font-size="10.5" fill="#2a2a2a" text-anchor="start" font-weight="normal" font-style="normal" >30</text>
<text x="499.00" y="206.80" font-family='"Liberation Sans", sans-serif' font-size="10.5" fill="#2a2a2a" text-anchor="middle" font-weight="normal" font-style="normal" >4,50</text>
<text x="603.00" y="206.80" font-family='"Liberation Sans", sans-serif' font-size="10.5" fill="#2a2a2a" text-anchor="start" font-weight="normal" font-style="normal" >10</text>
<text x="658.00" y="206.80" font-family='"Liberation Sans", sans-serif' font-size="10.5" fill="#2a2a2a" text-anchor="middle" font-weight="normal" font-style="normal" >2,55</text>
<text x="713.00" y="206.80" font-family='"Liberation Sans", sans-serif' font-size="10.5" fill="#2a2a2a" text-anchor="end" font-weight="normal" font-style="normal" >10</text>
<text x="741.00" y="206.80" font-family='"Liberation Sans", sans-serif' font-size="10.5" fill="#2a2a2a" text-anchor="middle" font-weight="normal" font-style="normal" >1,00</text>
<text x="768.00" y="206.80" font-family='"Liberation Sans", sans-serif' font-size="10.5" fill="#2a2a2a" text-anchor="start" font-weight="normal" font-style="normal" >10</text>
<text x="815.00" y="206.80" font-family='"Liberation Sans", sans-serif' font-size="10.5" fill="#2a2a2a" text-anchor="middle" font-weight="normal" font-style="normal" >2,15</text>
<text x="941.00" y="206.80" font-family='"Liberation Sans", sans-serif' font-size="10.5" fill="#2a2a2a" text-anchor="middle" font-weight="normal" font-style="normal" >3,60</text>
<text x="1019.00" y="206.80" font-family='"Liberation Sans", sans-serif' font-size="10.5" fill="#2a2a2a" text-anchor="end" font-weight="normal" font-style="normal" >30</text>
<text x="1055.50" y="206.80" font-family='"Liberation Sans", sans-serif' font-size="10.5" fill="#2a2a2a" text-anchor="middle" font-weight="normal" font-style="normal" >70</text>
<line x1="380.00" y1="225.00" x2="1040.00" y2="225.00" stroke="#2a2a2a" stroke-width="0.9" />
<line x1="380.00" y1="220.40" x2="380.00" y2="229.60" stroke="#2a2a2a" stroke-width="0.9" />
<line x1="378.20" y1="227.20" x2="381.80" y2="222.40" stroke="#2a2a2a" stroke-width="0.9" />
<line x1="386.60" y1="220.40" x2="386.60" y2="229.60" stroke="#2a2a2a" stroke-width="0.9" />
<line x1="384.80" y1="227.20" x2="388.40" y2="222.40" stroke="#2a2a2a" stroke-width="0.9" />
<line x1="659.70" y1="220.40" x2="659.70" y2="229.60" stroke="#2a2a2a" stroke-width="0.9" />
<line x1="657.90" y1="227.20" x2="661.50" y2="222.40" stroke="#2a2a2a" stroke-width="0.9" />
<line x1="740.70" y1="220.40" x2="740.70" y2="229.60" stroke="#2a2a2a" stroke-width="0.9" />
<line x1="738.90" y1="227.20" x2="742.50" y2="222.40" stroke="#2a2a2a" stroke-width="0.9" />
<line x1="806.70" y1="220.40" x2="806.70" y2="229.60" stroke="#2a2a2a" stroke-width="0.9" />
<line x1="804.90" y1="227.20" x2="808.50" y2="222.40" stroke="#2a2a2a" stroke-width="0.9" />
<line x1="1033.40" y1="220.40" x2="1033.40" y2="229.60" stroke="#2a2a2a" stroke-width="0.9" />
<line x1="1031.60" y1="227.20" x2="1035.20" y2="222.40" stroke="#2a2a2a" stroke-width="0.9" />
<line x1="1040.00" y1="220.40" x2="1040.00" y2="229.60" stroke="#2a2a2a" stroke-width="0.9" />
<line x1="1038.20" y1="227.20" x2="1041.80" y2="222.40" stroke="#2a2a2a" stroke-width="0.9" />
<text x="387.50" y="223.00" font-family='"Liberation Sans", sans-serif' font-size="10.5" fill="#2a2a2a" text-anchor="start" font-weight="normal" font-style="normal" >15</text>
<text x="523.00" y="223.00" font-family='"Liberation Sans", sans-serif' font-size="10.5" fill="#2a2a2a" text-anchor="middle" font-weight="normal" font-style="normal" >6,20</text>
<text x="700.00" y="223.00" font-family='"Liberation Sans", sans-serif' font-size="10.5" fill="#2a2a2a" text-anchor="middle" font-weight="normal" font-style="normal" >1,85</text>
<text x="774.00" y="223.00" font-family='"Liberation Sans", sans-serif' font-size="10.5" fill="#2a2a2a" text-anchor="middle" font-weight="normal" font-style="normal" >2,15</text>
<text x="920.00" y="223.00" font-family='"Liberation Sans", sans-serif' font-size="10.5" fill="#2a2a2a" text-anchor="middle" font-weight="normal" font-style="normal" >5,15</text>
<text x="1040.50" y="223.00" font-family='"Liberation Sans", sans-serif' font-size="10.5" fill="#2a2a2a" text-anchor="start" font-weight="normal" font-style="normal" >15</text>
<line x1="348.90" y1="712.80" x2="1071.50" y2="712.80" stroke="#2a2a2a" stroke-width="0.9" />
<line x1="348.90" y1="708.20" x2="348.90" y2="717.40" stroke="#2a2a2a" stroke-width="0.9" />
<line x1="347.10" y1="715.00" x2="350.70" y2="710.20" stroke="#2a2a2a" stroke-width="0.9" />
<line x1="380.00" y1="708.20" x2="380.00" y2="717.40" stroke="#2a2a2a" stroke-width="0.9" />
<line x1="378.20" y1="715.00" x2="381.80" y2="710.20" stroke="#2a2a2a" stroke-width="0.9" />
<line x1="386.60" y1="708.20" x2="386.60" y2="717.40" stroke="#2a2a2a" stroke-width="0.9" />
<line x1="384.80" y1="715.00" x2="388.40" y2="710.20" stroke="#2a2a2a" stroke-width="0.9" />
<line x1="399.80" y1="708.20" x2="399.80" y2="717.40" stroke="#2a2a2a" stroke-width="0.9" />
<line x1="398.00" y1="715.00" x2="401.60" y2="710.20" stroke="#2a2a2a" stroke-width="0.9" />
<line x1="857.40" y1="708.20" x2="857.40" y2="717.40" stroke="#2a2a2a" stroke-width="0.9" />
<line x1="855.60" y1="715.00" x2="859.20" y2="710.20" stroke="#2a2a2a" stroke-width="0.9" />
<line x1="861.80" y1="708.20" x2="861.80" y2="717.40" stroke="#2a2a2a" stroke-width="0.9" />
<line x1="860.00" y1="715.00" x2="863.60" y2="710.20" stroke="#2a2a2a" stroke-width="0.9" />
<line x1="1020.20" y1="708.20" x2="1020.20" y2="717.40" stroke="#2a2a2a" stroke-width="0.9" />
<line x1="1018.40" y1="715.00" x2="1022.00" y2="710.20" stroke="#2a2a2a" stroke-width="0.9" />
<line x1="1033.40" y1="708.20" x2="1033.40" y2="717.40" stroke="#2a2a2a" stroke-width="0.9" />
<line x1="1031.60" y1="715.00" x2="1035.20" y2="710.20" stroke="#2a2a2a" stroke-width="0.9" />
<line x1="1040.00" y1="708.20" x2="1040.00" y2="717.40" stroke="#2a2a2a" stroke-width="0.9" />
<line x1="1038.20" y1="715.00" x2="1041.80" y2="710.20" stroke="#2a2a2a" stroke-width="0.9" />
<line x1="1071.50" y1="708.20" x2="1071.50" y2="717.40" stroke="#2a2a2a" stroke-width="0.9" />
<line x1="1069.70" y1="715.00" x2="1073.30" y2="710.20" stroke="#2a2a2a" stroke-width="0.9" />
<text x="364.40" y="711.00" font-family='"Liberation Sans", sans-serif' font-size="10.5" fill="#2a2a2a" text-anchor="middle" font-weight="normal" font-style="normal" >70</text>
<text x="401.00" y="711.00" font-family='"Liberation Sans", sans-serif' font-size="10.5" fill="#2a2a2a" text-anchor="start" font-weight="normal" font-style="normal" >30</text>
<text x="629.00" y="711.00" font-family='"Liberation Sans", sans-serif' font-size="10.5" fill="#2a2a2a" text-anchor="middle" font-weight="normal" font-style="normal" >10,40</text>
<text x="862.50" y="711.00" font-family='"Liberation Sans", sans-serif' font-size="10.5" fill="#2a2a2a" text-anchor="start" font-weight="normal" font-style="normal" >10</text>
<text x="941.00" y="711.00" font-family='"Liberation Sans", sans-serif' font-size="10.5" fill="#2a2a2a" text-anchor="middle" font-weight="normal" font-style="normal" >3,60</text>
<text x="1019.00" y="711.00" font-family='"Liberation Sans", sans-serif' font-size="10.5" fill="#2a2a2a" text-anchor="end" font-weight="normal" font-style="normal" >30</text>
<text x="1055.50" y="711.00" font-family='"Liberation Sans", sans-serif' font-size="10.5" fill="#2a2a2a" text-anchor="middle" font-weight="normal" font-style="normal" >70</text>
<text x="378.50" y="700.00" font-family='"Liberation Sans", sans-serif' font-size="10.5" fill="#2a2a2a" text-anchor="start" font-weight="normal" font-style="normal" >15</text>
<text x="1031.50" y="700.00" font-family='"Liberation Sans", sans-serif' font-size="10.5" fill="#2a2a2a" text-anchor="start" font-weight="normal" font-style="normal" >15</text>
<line x1="348.90" y1="729.40" x2="1150.70" y2="729.40" stroke="#2a2a2a" stroke-width="0.9" />
<line x1="348.90" y1="724.80" x2="348.90" y2="734.00" stroke="#2a2a2a" stroke-width="0.9" />
<line x1="347.10" y1="731.60" x2="350.70" y2="726.80" stroke="#2a2a2a" stroke-width="0.9" />
<line x1="380.00" y1="724.80" x2="380.00" y2="734.00" stroke="#2a2a2a" stroke-width="0.9" />
<line x1="378.20" y1="731.60" x2="381.80" y2="726.80" stroke="#2a2a2a" stroke-width="0.9" />
<line x1="841.70" y1="724.80" x2="841.70" y2="734.00" stroke="#2a2a2a" stroke-width="0.9" />
<line x1="839.90" y1="731.60" x2="843.50" y2="726.80" stroke="#2a2a2a" stroke-width="0.9" />
<line x1="1040.00" y1="724.80" x2="1040.00" y2="734.00" stroke="#2a2a2a" stroke-width="0.9" />
<line x1="1038.20" y1="731.60" x2="1041.80" y2="726.80" stroke="#2a2a2a" stroke-width="0.9" />
<line x1="1150.70" y1="724.80" x2="1150.70" y2="734.00" stroke="#2a2a2a" stroke-width="0.9" />
<line x1="1148.90" y1="731.60" x2="1152.50" y2="726.80" stroke="#2a2a2a" stroke-width="0.9" />
<text x="364.40" y="727.50" font-family='"Liberation Sans", sans-serif' font-size="10.5" fill="#2a2a2a" text-anchor="middle" font-weight="normal" font-style="normal" >70</text>
<text x="611.60" y="727.50" font-family='"Liberation Sans", sans-serif' font-size="10.5" fill="#2a2a2a" text-anchor="middle" font-weight="normal" font-style="normal" >10,50</text>
<text x="941.00" y="727.50" font-family='"Liberation Sans", sans-serif' font-size="10.5" fill="#2a2a2a" text-anchor="middle" font-weight="normal" font-style="normal" >4,50</text>
<text x="1095.00" y="727.50" font-family='"Liberation Sans", sans-serif' font-size="10.5" fill="#2a2a2a" text-anchor="middle" font-weight="normal" font-style="normal" >2,50</text>
<line x1="380.00" y1="745.10" x2="1040.00" y2="745.10" stroke="#2a2a2a" stroke-width="0.9" />
<line x1="380.00" y1="740.50" x2="380.00" y2="749.70" stroke="#2a2a2a" stroke-width="0.9" />
<line x1="378.20" y1="747.30" x2="381.80" y2="742.50" stroke="#2a2a2a" stroke-width="0.9" />
<line x1="1040.00" y1="740.50" x2="1040.00" y2="749.70" stroke="#2a2a2a" stroke-width="0.9" />
<line x1="1038.20" y1="747.30" x2="1041.80" y2="742.50" stroke="#2a2a2a" stroke-width="0.9" />
<text x="710.00" y="743.20" font-family='"Liberation Sans", sans-serif' font-size="10.5" fill="#2a2a2a" text-anchor="middle" font-weight="normal" font-style="normal" >15,00</text>
<line x1="300.60" y1="268.00" x2="300.60" y2="601.30" stroke="#2a2a2a" stroke-width="0.9" />
<line x1="296.00" y1="272.00" x2="305.20" y2="272.00" stroke="#2a2a2a" stroke-width="0.9" />
<line x1="298.40" y1="273.80" x2="303.20" y2="270.20" stroke="#2a2a2a" stroke-width="0.9" />
<line x1="296.00" y1="601.30" x2="305.20" y2="601.30" stroke="#2a2a2a" stroke-width="0.9" />
<line x1="298.40" y1="603.10" x2="303.20" y2="599.50" stroke="#2a2a2a" stroke-width="0.9" />
<text transform="translate(298.60,436.60) rotate(-90)" font-family='"Liberation Sans", sans-serif' font-size="10.5" fill="#2a2a2a" text-anchor="middle" >7,50</text>
<text transform="translate(305.40,274.00) rotate(-90)" font-family='"Liberation Sans", sans-serif' font-size="10.5" fill="#2a2a2a" text-anchor="middle" >15</text>
<line x1="319.50" y1="236.00" x2="319.50" y2="601.30" stroke="#2a2a2a" stroke-width="0.9" />
<line x1="314.90" y1="242.10" x2="324.10" y2="242.10" stroke="#2a2a2a" stroke-width="0.9" />
<line x1="317.30" y1="243.90" x2="322.10" y2="240.30" stroke="#2a2a2a" stroke-width="0.9" />
<line x1="314.90" y1="246.50" x2="324.10" y2="246.50" stroke="#2a2a2a" stroke-width="0.9" />
<line x1="317.30" y1="248.30" x2="322.10" y2="244.70" stroke="#2a2a2a" stroke-width="0.9" />
<line x1="314.90" y1="272.40" x2="324.10" y2="272.40" stroke="#2a2a2a" stroke-width="0.9" />
<line x1="317.30" y1="274.20" x2="322.10" y2="270.60" stroke="#2a2a2a" stroke-width="0.9" />
<line x1="314.90" y1="291.80" x2="324.10" y2="291.80" stroke="#2a2a2a" stroke-width="0.9" />
<line x1="317.30" y1="293.60" x2="322.10" y2="290.00" stroke="#2a2a2a" stroke-width="0.9" />
<line x1="314.90" y1="406.20" x2="324.10" y2="406.20" stroke="#2a2a2a" stroke-width="0.9" />
<line x1="317.30" y1="408.00" x2="322.10" y2="404.40" stroke="#2a2a2a" stroke-width="0.9" />
<line x1="314.90" y1="419.40" x2="324.10" y2="419.40" stroke="#2a2a2a" stroke-width="0.9" />
<line x1="317.30" y1="421.20" x2="322.10" y2="417.60" stroke="#2a2a2a" stroke-width="0.9" />
<line x1="314.90" y1="582.20" x2="324.10" y2="582.20" stroke="#2a2a2a" stroke-width="0.9" />
<line x1="317.30" y1="584.00" x2="322.10" y2="580.40" stroke="#2a2a2a" stroke-width="0.9" />
<line x1="314.90" y1="595.40" x2="324.10" y2="595.40" stroke="#2a2a2a" stroke-width="0.9" />
<line x1="317.30" y1="597.20" x2="322.10" y2="593.60" stroke="#2a2a2a" stroke-width="0.9" />
<line x1="314.90" y1="601.30" x2="324.10" y2="601.30" stroke="#2a2a2a" stroke-width="0.9" />
<line x1="317.30" y1="603.10" x2="322.10" y2="599.50" stroke="#2a2a2a" stroke-width="0.9" />
<text transform="translate(317.50,238.00) rotate(-90)" font-family='"Liberation Sans", sans-serif' font-size="10.5" fill="#2a2a2a" text-anchor="middle" >10</text>
<text transform="translate(317.50,259.40) rotate(-90)" font-family='"Liberation Sans", sans-serif' font-size="10.5" fill="#2a2a2a" text-anchor="middle" >60</text>
<text transform="translate(317.50,298.00) rotate(-90)" font-family='"Liberation Sans", sans-serif' font-size="10.5" fill="#2a2a2a" text-anchor="middle" >30</text>
<text transform="translate(317.50,349.00) rotate(-90)" font-family='"Liberation Sans", sans-serif' font-size="10.5" fill="#2a2a2a" text-anchor="middle" >2,60</text>
<text transform="translate(317.50,425.00) rotate(-90)" font-family='"Liberation Sans", sans-serif' font-size="10.5" fill="#2a2a2a" text-anchor="middle" >30</text>
<text transform="translate(317.50,500.80) rotate(-90)" font-family='"Liberation Sans", sans-serif' font-size="10.5" fill="#2a2a2a" text-anchor="middle" >3,70</text>
<text transform="translate(317.50,573.00) rotate(-90)" font-family='"Liberation Sans", sans-serif' font-size="10.5" fill="#2a2a2a" text-anchor="middle" >30</text>
<text transform="translate(317.50,607.70) rotate(-90)" font-family='"Liberation Sans", sans-serif' font-size="10.5" fill="#2a2a2a" text-anchor="middle" >15</text>
<line x1="335.80" y1="268.00" x2="335.80" y2="601.30" stroke="#2a2a2a" stroke-width="0.9" />
<line x1="331.20" y1="272.00" x2="340.40" y2="272.00" stroke="#2a2a2a" stroke-width="0.9" />
<line x1="333.60" y1="273.80" x2="338.40" y2="270.20" stroke="#2a2a2a" stroke-width="0.9" />
<line x1="331.20" y1="278.60" x2="340.40" y2="278.60" stroke="#2a2a2a" stroke-width="0.9" />
<line x1="333.60" y1="280.40" x2="338.40" y2="276.80" stroke="#2a2a2a" stroke-width="0.9" />
<line x1="331.20" y1="351.20" x2="340.40" y2="351.20" stroke="#2a2a2a" stroke-width="0.9" />
<line x1="333.60" y1="353.00" x2="338.40" y2="349.40" stroke="#2a2a2a" stroke-width="0.9" />
<line x1="331.20" y1="514.00" x2="340.40" y2="514.00" stroke="#2a2a2a" stroke-width="0.9" />
<line x1="333.60" y1="515.80" x2="338.40" y2="512.20" stroke="#2a2a2a" stroke-width="0.9" />
<line x1="331.20" y1="595.40" x2="340.40" y2="595.40" stroke="#2a2a2a" stroke-width="0.9" />
<line x1="333.60" y1="597.20" x2="338.40" y2="593.60" stroke="#2a2a2a" stroke-width="0.9" />
<line x1="331.20" y1="601.30" x2="340.40" y2="601.30" stroke="#2a2a2a" stroke-width="0.9" />
<line x1="333.60" y1="603.10" x2="338.40" y2="599.50" stroke="#2a2a2a" stroke-width="0.9" />
<text transform="translate(333.80,283.50) rotate(-90)" font-family='"Liberation Sans", sans-serif' font-size="10.5" fill="#2a2a2a" text-anchor="middle" >15</text>
<text transform="translate(333.80,314.00) rotate(-90)" font-family='"Liberation Sans", sans-serif' font-size="10.5" fill="#2a2a2a" text-anchor="middle" >1,65</text>
<text transform="translate(333.80,430.50) rotate(-90)" font-family='"Liberation Sans", sans-serif' font-size="10.5" fill="#2a2a2a" text-anchor="middle" >3,70</text>
<text transform="translate(333.80,554.70) rotate(-90)" font-family='"Liberation Sans", sans-serif' font-size="10.5" fill="#2a2a2a" text-anchor="middle" >1,85</text>
<text transform="translate(333.80,607.70) rotate(-90)" font-family='"Liberation Sans", sans-serif' font-size="10.5" fill="#2a2a2a" text-anchor="middle" >15</text>
<line x1="1111.40" y1="272.00" x2="1111.40" y2="316.00" stroke="#2a2a2a" stroke-width="0.9" />
<line x1="1106.80" y1="272.00" x2="1116.00" y2="272.00" stroke="#2a2a2a" stroke-width="0.9" />
<line x1="1109.20" y1="273.80" x2="1114.00" y2="270.20" stroke="#2a2a2a" stroke-width="0.9" />
<line x1="1106.80" y1="307.20" x2="1116.00" y2="307.20" stroke="#2a2a2a" stroke-width="0.9" />
<line x1="1109.20" y1="309.00" x2="1114.00" y2="305.40" stroke="#2a2a2a" stroke-width="0.9" />
<line x1="1106.80" y1="316.00" x2="1116.00" y2="316.00" stroke="#2a2a2a" stroke-width="0.9" />
<line x1="1109.20" y1="317.80" x2="1114.00" y2="314.20" stroke="#2a2a2a" stroke-width="0.9" />
<text transform="translate(1109.40,289.60) rotate(-90)" font-family='"Liberation Sans", sans-serif' font-size="10.5" fill="#2a2a2a" text-anchor="middle" >80</text>
<text transform="translate(1109.40,323.00) rotate(-90)" font-family='"Liberation Sans", sans-serif' font-size="10.5" fill="#2a2a2a" text-anchor="middle" >20</text>
<line x1="1169.60" y1="268.00" x2="1169.60" y2="663.60" stroke="#2a2a2a" stroke-width="0.9" />
<line x1="1165.00" y1="272.00" x2="1174.20" y2="272.00" stroke="#2a2a2a" stroke-width="0.9" />
<line x1="1167.40" y1="273.80" x2="1172.20" y2="270.20" stroke="#2a2a2a" stroke-width="0.9" />
<line x1="1165.00" y1="278.60" x2="1174.20" y2="278.60" stroke="#2a2a2a" stroke-width="0.9" />
<line x1="1167.40" y1="280.40" x2="1172.20" y2="276.80" stroke="#2a2a2a" stroke-width="0.9" />
<line x1="1165.00" y1="355.60" x2="1174.20" y2="355.60" stroke="#2a2a2a" stroke-width="0.9" />
<line x1="1167.40" y1="357.40" x2="1172.20" y2="353.80" stroke="#2a2a2a" stroke-width="0.9" />
<line x1="1165.00" y1="467.80" x2="1174.20" y2="467.80" stroke="#2a2a2a" stroke-width="0.9" />
<line x1="1167.40" y1="469.60" x2="1172.20" y2="466.00" stroke="#2a2a2a" stroke-width="0.9" />
<line x1="1165.00" y1="580.00" x2="1174.20" y2="580.00" stroke="#2a2a2a" stroke-width="0.9" />
<line x1="1167.40" y1="581.80" x2="1172.20" y2="578.20" stroke="#2a2a2a" stroke-width="0.9" />
<line x1="1165.00" y1="657.00" x2="1174.20" y2="657.00" stroke="#2a2a2a" stroke-width="0.9" />
<line x1="1167.40" y1="658.80" x2="1172.20" y2="655.20" stroke="#2a2a2a" stroke-width="0.9" />
<line x1="1165.00" y1="663.60" x2="1174.20" y2="663.60" stroke="#2a2a2a" stroke-width="0.9" />
<line x1="1167.40" y1="665.40" x2="1172.20" y2="661.80" stroke="#2a2a2a" stroke-width="0.9" />
<text transform="translate(1167.60,284.60) rotate(-90)" font-family='"Liberation Sans", sans-serif' font-size="10.5" fill="#2a2a2a" text-anchor="middle" >15</text>
<text transform="translate(1167.60,317.00) rotate(-90)" font-family='"Liberation Sans", sans-serif' font-size="10.5" fill="#2a2a2a" text-anchor="middle" >1,75</text>
<text transform="translate(1167.60,411.70) rotate(-90)" font-family='"Liberation Sans", sans-serif' font-size="10.5" fill="#2a2a2a" text-anchor="middle" >2,55</text>
<text transform="translate(1167.60,523.90) rotate(-90)" font-family='"Liberation Sans", sans-serif' font-size="10.5" fill="#2a2a2a" text-anchor="middle" >2,55</text>
<text transform="translate(1167.60,618.50) rotate(-90)" font-family='"Liberation Sans", sans-serif' font-size="10.5" fill="#2a2a2a" text-anchor="middle" >1,75</text>
<text transform="translate(1167.60,667.00) rotate(-90)" font-family='"Liberation Sans", sans-serif' font-size="10.5" fill="#2a2a2a" text-anchor="middle" >15</text>
<line x1="1188.30" y1="268.00" x2="1188.30" y2="693.40" stroke="#2a2a2a" stroke-width="0.9" />
<line x1="1183.70" y1="272.00" x2="1192.90" y2="272.00" stroke="#2a2a2a" stroke-width="0.9" />
<line x1="1186.10" y1="273.80" x2="1190.90" y2="270.20" stroke="#2a2a2a" stroke-width="0.9" />
<line x1="1183.70" y1="278.60" x2="1192.90" y2="278.60" stroke="#2a2a2a" stroke-width="0.9" />
<line x1="1186.10" y1="280.40" x2="1190.90" y2="276.80" stroke="#2a2a2a" stroke-width="0.9" />
<line x1="1183.70" y1="291.80" x2="1192.90" y2="291.80" stroke="#2a2a2a" stroke-width="0.9" />
<line x1="1186.10" y1="293.60" x2="1190.90" y2="290.00" stroke="#2a2a2a" stroke-width="0.9" />
<line x1="1183.70" y1="643.80" x2="1192.90" y2="643.80" stroke="#2a2a2a" stroke-width="0.9" />
<line x1="1186.10" y1="645.60" x2="1190.90" y2="642.00" stroke="#2a2a2a" stroke-width="0.9" />
<line x1="1183.70" y1="657.00" x2="1192.90" y2="657.00" stroke="#2a2a2a" stroke-width="0.9" />
<line x1="1186.10" y1="658.80" x2="1190.90" y2="655.20" stroke="#2a2a2a" stroke-width="0.9" />
<line x1="1183.70" y1="680.00" x2="1192.90" y2="680.00" stroke="#2a2a2a" stroke-width="0.9" />
<line x1="1186.10" y1="681.80" x2="1190.90" y2="678.20" stroke="#2a2a2a" stroke-width="0.9" />
<line x1="1183.70" y1="693.40" x2="1192.90" y2="693.40" stroke="#2a2a2a" stroke-width="0.9" />
<line x1="1186.10" y1="695.20" x2="1190.90" y2="691.60" stroke="#2a2a2a" stroke-width="0.9" />
<text transform="translate(1186.30,262.80) rotate(-90)" font-family='"Liberation Sans", sans-serif' font-size="10.5" fill="#2a2a2a" text-anchor="middle" >15</text>
<text transform="translate(1186.30,298.80) rotate(-90)" font-family='"Liberation Sans", sans-serif' font-size="10.5" fill="#2a2a2a" text-anchor="middle" >30</text>
<text transform="translate(1186.30,467.80) rotate(-90)" font-family='"Liberation Sans", sans-serif' font-size="10.5" fill="#2a2a2a" text-anchor="middle" >8,00</text>
<text transform="translate(1186.30,635.40) rotate(-90)" font-family='"Liberation Sans", sans-serif' font-size="10.5" fill="#2a2a2a" text-anchor="middle" >30</text>
<text transform="translate(1186.30,670.00) rotate(-90)" font-family='"Liberation Sans", sans-serif' font-size="10.5" fill="#2a2a2a" text-anchor="middle" >40</text>
<text transform="translate(1186.30,699.80) rotate(-90)" font-family='"Liberation Sans", sans-serif' font-size="10.5" fill="#2a2a2a" text-anchor="middle" >30</text>
<line x1="1208.60" y1="236.00" x2="1208.60" y2="693.40" stroke="#2a2a2a" stroke-width="0.9" />
<line x1="1204.00" y1="240.60" x2="1213.20" y2="240.60" stroke="#2a2a2a" stroke-width="0.9" />
<line x1="1206.40" y1="242.40" x2="1211.20" y2="238.80" stroke="#2a2a2a" stroke-width="0.9" />
<line x1="1204.00" y1="245.30" x2="1213.20" y2="245.30" stroke="#2a2a2a" stroke-width="0.9" />
<line x1="1206.40" y1="247.10" x2="1211.20" y2="243.50" stroke="#2a2a2a" stroke-width="0.9" />
<line x1="1204.00" y1="271.70" x2="1213.20" y2="271.70" stroke="#2a2a2a" stroke-width="0.9" />
<line x1="1206.40" y1="273.50" x2="1211.20" y2="269.90" stroke="#2a2a2a" stroke-width="0.9" />
<line x1="1204.00" y1="663.30" x2="1213.20" y2="663.30" stroke="#2a2a2a" stroke-width="0.9" />
<line x1="1206.40" y1="665.10" x2="1211.20" y2="661.50" stroke="#2a2a2a" stroke-width="0.9" />
<line x1="1204.00" y1="680.00" x2="1213.20" y2="680.00" stroke="#2a2a2a" stroke-width="0.9" />
<line x1="1206.40" y1="681.80" x2="1211.20" y2="678.20" stroke="#2a2a2a" stroke-width="0.9" />
<line x1="1204.00" y1="693.40" x2="1213.20" y2="693.40" stroke="#2a2a2a" stroke-width="0.9" />
<line x1="1206.40" y1="695.20" x2="1211.20" y2="691.60" stroke="#2a2a2a" stroke-width="0.9" />
<text transform="translate(1206.60,232.00) rotate(-90)" font-family='"Liberation Sans", sans-serif' font-size="10.5" fill="#2a2a2a" text-anchor="middle" >10</text>
<text transform="translate(1206.60,258.30) rotate(-90)" font-family='"Liberation Sans", sans-serif' font-size="10.5" fill="#2a2a2a" text-anchor="middle" >60</text>
<text transform="translate(1206.60,467.50) rotate(-90)" font-family='"Liberation Sans", sans-serif' font-size="10.5" fill="#2a2a2a" text-anchor="middle" >8,90</text>
<text transform="translate(1206.60,670.60) rotate(-90)" font-family='"Liberation Sans", sans-serif' font-size="10.5" fill="#2a2a2a" text-anchor="middle" >40</text>
<text transform="translate(1206.60,699.60) rotate(-90)" font-family='"Liberation Sans", sans-serif' font-size="10.5" fill="#2a2a2a" text-anchor="middle" >30</text>
<text transform="translate(655.60,255.50) rotate(-90)" font-family='"Liberation Sans", sans-serif' font-size="10.5" fill="#2a2a2a" text-anchor="middle" >90</text>
<text transform="translate(671.80,255.50) rotate(-90)" font-family='"Liberation Sans", sans-serif' font-size="10.5" fill="#2a2a2a" text-anchor="middle" >60</text>
<line x1="660.00" y1="243.00" x2="660.00" y2="300.00" stroke="#aaa" stroke-width="1" />
<text transform="translate(737.60,255.50) rotate(-90)" font-family='"Liberation Sans", sans-serif' font-size="10.5" fill="#2a2a2a" text-anchor="middle" >60</text>
<text transform="translate(753.60,255.50) rotate(-90)" font-family='"Liberation Sans", sans-serif' font-size="10.5" fill="#2a2a2a" text-anchor="middle" >60</text>
<line x1="741.00" y1="243.00" x2="741.00" y2="300.00" stroke="#aaa" stroke-width="1" />
<text transform="translate(803.30,255.50) rotate(-90)" font-family='"Liberation Sans", sans-serif' font-size="10.5" fill="#2a2a2a" text-anchor="middle" >60</text>
<text transform="translate(819.30,255.50) rotate(-90)" font-family='"Liberation Sans", sans-serif' font-size="10.5" fill="#2a2a2a" text-anchor="middle" >60</text>
<line x1="807.00" y1="243.00" x2="807.00" y2="300.00" stroke="#aaa" stroke-width="1" />
<polygon points="655.1,252.3 677.6,242.6 677.6,248.6" fill="#4e4ed8"/>
<line x1="677.30" y1="240.00" x2="677.30" y2="263.00" stroke="#6a6ae0" stroke-width="0.8" stroke-dasharray="6,2,1,2"/>
<polygon points="675,258.3 677.6,256 677.6,261" fill="#4e4ed8"/>
<polyline points="655.40,250.00 655.40,234.30 666.00,234.30" fill="none" stroke="#222" stroke-width="1" />
<line x1="680.30" y1="234.30" x2="690.30" y2="234.30" stroke="#222" stroke-width="1" />
<line x1="690.30" y1="234.30" x2="684.30" y2="228.00" stroke="#222" stroke-width="1" />
<line x1="655.40" y1="268.30" x2="655.40" y2="288.00" stroke="#222" stroke-width="1" />
<text x="637.50" y="305.00" font-family='"Liberation Sans", sans-serif' font-size="10.5" fill="#2a2a2a" text-anchor="start" font-weight="normal" font-style="normal" >pm= 1,80</text>
<text x="719.00" y="305.00" font-family='"Liberation Sans", sans-serif' font-size="10.5" fill="#2a2a2a" text-anchor="start" font-weight="normal" font-style="normal" >pm= 1,80</text>
<text x="784.80" y="305.00" font-family='"Liberation Sans", sans-serif' font-size="10.5" fill="#2a2a2a" text-anchor="start" font-weight="normal" font-style="normal" >pm= 1,80</text>
<text x="358.50" y="346.50" font-family='"Liberation Sans", sans-serif' font-size="10.5" fill="#2a2a2a" text-anchor="start" font-weight="normal" font-style="normal" >1,50</text>
<text x="358.50" y="362.90" font-family='"Liberation Sans", sans-serif' font-size="10.5" fill="#2a2a2a" text-anchor="start" font-weight="normal" font-style="normal" >1,20</text>
<line x1="351.20" y1="351.00" x2="408.50" y2="351.00" stroke="#2a2a2a" stroke-width="0.9" />
<text transform="translate(413.40,351.00) rotate(-90)" font-family='"Liberation Sans", sans-serif' font-size="10.5" fill="#2a2a2a" text-anchor="middle" >pm= 90</text>
<text x="358.50" y="509.30" font-family='"Liberation Sans", sans-serif' font-size="10.5" fill="#2a2a2a" text-anchor="start" font-weight="normal" font-style="normal" >1,50</text>
<text x="358.50" y="524.40" font-family='"Liberation Sans", sans-serif' font-size="10.5" fill="#2a2a2a" text-anchor="start" font-weight="normal" font-style="normal" >1,20</text>
<line x1="351.20" y1="513.10" x2="408.50" y2="513.10" stroke="#2a2a2a" stroke-width="0.9" />
<text transform="translate(413.40,513.10) rotate(-90)" font-family='"Liberation Sans", sans-serif' font-size="10.5" fill="#2a2a2a" text-anchor="middle" >pm= 90</text>
<text x="1042.00" y="351.50" font-family='"Liberation Sans", sans-serif' font-size="10.5" fill="#2a2a2a" text-anchor="start" font-weight="normal" font-style="normal" >1,50</text>
<text x="1042.00" y="366.40" font-family='"Liberation Sans", sans-serif' font-size="10.5" fill="#2a2a2a" text-anchor="start" font-weight="normal" font-style="normal" >1,20</text>
<line x1="1013.70" y1="355.00" x2="1069.80" y2="355.00" stroke="#2a2a2a" stroke-width="0.9" />
<text transform="translate(1016.40,355.00) rotate(-90)" font-family='"Liberation Sans", sans-serif' font-size="10.5" fill="#2a2a2a" text-anchor="middle" >pm= 90</text>
<text x="1042.00" y="575.00" font-family='"Liberation Sans", sans-serif' font-size="10.5" fill="#2a2a2a" text-anchor="start" font-weight="normal" font-style="normal" >1,50</text>
<text x="1042.00" y="590.10" font-family='"Liberation Sans", sans-serif' font-size="10.5" fill="#2a2a2a" text-anchor="start" font-weight="normal" font-style="normal" >1,20</text>
<line x1="1013.70" y1="579.30" x2="1069.80" y2="579.30" stroke="#2a2a2a" stroke-width="0.9" />
<text transform="translate(1016.40,579.30) rotate(-90)" font-family='"Liberation Sans", sans-serif' font-size="10.5" fill="#2a2a2a" text-anchor="middle" >pm= 90</text>
<line x1="1040.00" y1="599.70" x2="1150.70" y2="599.70" stroke="#2a2a2a" stroke-width="0.9" />
<line x1="1040.00" y1="595.10" x2="1040.00" y2="604.30" stroke="#2a2a2a" stroke-width="0.9" />
<line x1="1038.20" y1="601.90" x2="1041.80" y2="597.10" stroke="#2a2a2a" stroke-width="0.9" />
<line x1="1070.80" y1="595.10" x2="1070.80" y2="604.30" stroke="#2a2a2a" stroke-width="0.9" />
<line x1="1069.00" y1="601.90" x2="1072.60" y2="597.10" stroke="#2a2a2a" stroke-width="0.9" />
<line x1="1150.70" y1="595.10" x2="1150.70" y2="604.30" stroke="#2a2a2a" stroke-width="0.9" />
<line x1="1148.90" y1="601.90" x2="1152.50" y2="597.10" stroke="#2a2a2a" stroke-width="0.9" />
<text x="1055.00" y="597.60" font-family='"Liberation Sans", sans-serif' font-size="10.5" fill="#2a2a2a" text-anchor="middle" font-weight="normal" font-style="normal" >70</text>
<text x="1111.00" y="597.60" font-family='"Liberation Sans", sans-serif' font-size="10.5" fill="#2a2a2a" text-anchor="middle" font-weight="normal" font-style="normal" >1,80</text>
<text transform="translate(575.90,402.00) rotate(-90)" font-family='"Liberation Sans", sans-serif' font-size="10.5" fill="#2a2a2a" text-anchor="middle" >90</text>
<text transform="translate(591.20,407.50) rotate(-90)" font-family='"Liberation Sans", sans-serif' font-size="10.5" fill="#2a2a2a" text-anchor="middle" >2,10</text>
<line x1="578.60" y1="376.40" x2="578.60" y2="423.40" stroke="#2a2a2a" stroke-width="0.9" />
<text transform="translate(649.20,397.00) rotate(-90)" font-family='"Liberation Sans", sans-serif' font-size="10.5" fill="#2a2a2a" text-anchor="middle" >90</text>
<text transform="translate(666.60,402.30) rotate(-90)" font-family='"Liberation Sans", sans-serif' font-size="10.5" fill="#2a2a2a" text-anchor="middle" >2,10</text>
<line x1="653.20" y1="377.00" x2="653.20" y2="424.00" stroke="#2a2a2a" stroke-width="0.9" />
<text transform="translate(735.50,396.60) rotate(-90)" font-family='"Liberation Sans", sans-serif' font-size="10.5" fill="#2a2a2a" text-anchor="middle" >90</text>
<text transform="translate(753.00,402.00) rotate(-90)" font-family='"Liberation Sans", sans-serif' font-size="10.5" fill="#2a2a2a" text-anchor="middle" >2,10</text>
<line x1="738.30" y1="376.40" x2="738.30" y2="424.00" stroke="#2a2a2a" stroke-width="0.9" />
<text transform="translate(807.70,396.60) rotate(-90)" font-family='"Liberation Sans", sans-serif' font-size="10.5" fill="#2a2a2a" text-anchor="middle" >90</text>
<text transform="translate(825.20,402.00) rotate(-90)" font-family='"Liberation Sans", sans-serif' font-size="10.5" fill="#2a2a2a" text-anchor="middle" >2,10</text>
<line x1="811.40" y1="376.40" x2="811.40" y2="424.00" stroke="#2a2a2a" stroke-width="0.9" />
<text transform="translate(701.40,479.70) rotate(-90)" font-family='"Liberation Sans", sans-serif' font-size="10.5" fill="#2a2a2a" text-anchor="middle" >90</text>
<text transform="translate(719.40,474.80) rotate(-90)" font-family='"Liberation Sans", sans-serif' font-size="10.5" fill="#2a2a2a" text-anchor="middle" >2,10</text>
<line x1="706.20" y1="462.00" x2="706.20" y2="499.30" stroke="#2a2a2a" stroke-width="0.9" />
<text transform="translate(788.50,476.00) rotate(-90)" font-family='"Liberation Sans", sans-serif' font-size="10.5" fill="#2a2a2a" text-anchor="middle" >90</text>
<text transform="translate(806.90,476.00) rotate(-90)" font-family='"Liberation Sans", sans-serif' font-size="10.5" fill="#2a2a2a" text-anchor="middle" >2,10</text>
<line x1="793.30" y1="463.20" x2="793.30" y2="499.20" stroke="#2a2a2a" stroke-width="0.9" />
<text transform="translate(791.70,577.00) rotate(-90)" font-family='"Liberation Sans", sans-serif' font-size="10.5" fill="#2a2a2a" text-anchor="middle" >1,00</text>
<text transform="translate(808.50,577.00) rotate(-90)" font-family='"Liberation Sans", sans-serif' font-size="10.5" fill="#2a2a2a" text-anchor="middle" >2,10</text>
<line x1="795.70" y1="552.90" x2="795.70" y2="600.00" stroke="#2a2a2a" stroke-width="0.9" />
<text x="537.50" y="442.00" font-family='"Liberation Sans", sans-serif' font-size="10.5" fill="#2a2a2a" text-anchor="start" font-weight="normal" font-style="normal" >90</text>
<text x="538.50" y="460.60" font-family='"Liberation Sans", sans-serif' font-size="10.5" fill="#2a2a2a" text-anchor="start" font-weight="normal" font-style="normal" >2,10</text>
<line x1="525.00" y1="447.00" x2="563.00" y2="447.00" stroke="#2a2a2a" stroke-width="0.9" />
<text x="854.70" y="438.50" font-family='"Liberation Sans", sans-serif' font-size="10.5" fill="#2a2a2a" text-anchor="start" font-weight="normal" font-style="normal" >1,00</text>
<text x="854.70" y="455.60" font-family='"Liberation Sans", sans-serif' font-size="10.5" fill="#2a2a2a" text-anchor="start" font-weight="normal" font-style="normal" >2,40</text>
<line x1="844.40" y1="442.30" x2="889.50" y2="442.30" stroke="#2a2a2a" stroke-width="0.9" />
<text x="990.40" y="461.60" font-family='"Liberation Sans", sans-serif' font-size="10.5" fill="#2a2a2a" text-anchor="start" font-weight="normal" font-style="normal" >1,80</text>
<text x="990.20" y="479.70" font-family='"Liberation Sans", sans-serif' font-size="10.5" fill="#2a2a2a" text-anchor="start" font-weight="normal" font-style="normal" >2,10</text>
<line x1="984.00" y1="466.70" x2="1044.70" y2="466.70" stroke="#2a2a2a" stroke-width="0.9" />
<text x="604.00" y="576.30" font-family='"Liberation Sans", sans-serif' font-size="10.5" fill="#2a2a2a" text-anchor="start" font-weight="normal" font-style="normal" >pm= 90</text>
<text transform="translate(618.40,612.00) rotate(-90)" font-family='"Liberation Sans", sans-serif' font-size="10.5" fill="#2a2a2a" text-anchor="middle" >1,50</text>
<text transform="translate(634.80,612.00) rotate(-90)" font-family='"Liberation Sans", sans-serif' font-size="10.5" fill="#2a2a2a" text-anchor="middle" >1,20</text>
<line x1="621.30" y1="565.00" x2="621.30" y2="631.00" stroke="#2a2a2a" stroke-width="0.8" />
<line x1="617.40" y1="563.00" x2="617.40" y2="642.00" stroke="#2a2a2a" stroke-width="0.9" stroke-dasharray="18,5,3,5"/>
<text transform="translate(719.20,631.00) rotate(-90)" font-family='"Liberation Sans", sans-serif' font-size="10.5" fill="#2a2a2a" text-anchor="middle" >1,40</text>
<line x1="720.70" y1="601.30" x2="720.70" y2="662.00" stroke="#2a2a2a" stroke-width="0.9" />
<line x1="717.00" y1="662.00" x2="724.40" y2="658.40" stroke="#2a2a2a" stroke-width="1" />
<line x1="766.30" y1="601.30" x2="766.30" y2="666.00" stroke="#2a2a2a" stroke-width="0.9" />
<line x1="761.70" y1="601.30" x2="770.90" y2="601.30" stroke="#2a2a2a" stroke-width="0.9" />
<line x1="764.10" y1="603.10" x2="768.90" y2="599.50" stroke="#2a2a2a" stroke-width="0.9" />
<line x1="761.70" y1="623.30" x2="770.90" y2="623.30" stroke="#2a2a2a" stroke-width="0.9" />
<line x1="764.10" y1="625.10" x2="768.90" y2="621.50" stroke="#2a2a2a" stroke-width="0.9" />
<line x1="761.70" y1="656.20" x2="770.90" y2="656.20" stroke="#2a2a2a" stroke-width="0.9" />
<line x1="764.10" y1="658.00" x2="768.90" y2="654.40" stroke="#2a2a2a" stroke-width="0.9" />
<line x1="761.70" y1="662.80" x2="770.90" y2="662.80" stroke="#2a2a2a" stroke-width="0.9" />
<line x1="764.10" y1="664.60" x2="768.90" y2="661.00" stroke="#2a2a2a" stroke-width="0.9" />
<text transform="translate(764.50,612.00) rotate(-90)" font-family='"Liberation Sans", sans-serif' font-size="10.5" fill="#2a2a2a" text-anchor="middle" >50</text>
<text transform="translate(764.50,639.00) rotate(-90)" font-family='"Liberation Sans", sans-serif' font-size="10.5" fill="#2a2a2a" text-anchor="middle" >75</text>
<text transform="translate(764.50,668.20) rotate(-90)" font-family='"Liberation Sans", sans-serif' font-size="10.5" fill="#2a2a2a" text-anchor="middle" >15</text>
<text x="828.80" y="618.60" font-family='"Liberation Sans", sans-serif' font-size="10.5" fill="#2a2a2a" text-anchor="start" font-weight="normal" font-style="normal" >60</text>
<text x="830.40" y="634.80" font-family='"Liberation Sans", sans-serif' font-size="10.5" fill="#2a2a2a" text-anchor="start" font-weight="normal" font-style="normal" >1,20</text>
<text x="922.90" y="637.30" font-family='"Liberation Sans", sans-serif' font-size="10.5" fill="#2a2a2a" text-anchor="start" font-weight="normal" font-style="normal" >pm= 90</text>
<line x1="941.00" y1="633.00" x2="941.00" y2="691.60" stroke="#2a2a2a" stroke-width="0.9" />
<text transform="translate(937.90,673.50) rotate(-90)" font-family='"Liberation Sans", sans-serif' font-size="10.5" fill="#2a2a2a" text-anchor="middle" >1,50</text>
<text transform="translate(953.80,673.50) rotate(-90)" font-family='"Liberation Sans", sans-serif' font-size="10.5" fill="#2a2a2a" text-anchor="middle" >1,20</text>
<text transform="translate(876.00,622.90) rotate(-90)" font-family='"Liberation Sans", sans-serif' font-size="10.5" fill="#2a2a2a" text-anchor="middle" >pm= 90</text>
<line x1="813.00" y1="622.60" x2="878.00" y2="622.60" stroke="#2a2a2a" stroke-width="0.9" />
<line x1="985.00" y1="500.00" x2="1106.80" y2="500.00" stroke="#8a8a8a" stroke-width="1.2" stroke-dasharray="15,7,1.5,7"/>
<line x1="1106.80" y1="500.00" x2="1106.80" y2="534.70" stroke="#555" stroke-width="0.9" stroke-dasharray="10.5,7,1.5,6"/>
<line x1="1106.80" y1="534.70" x2="1122.10" y2="519.60" stroke="#333" stroke-width="1" />
<text x="499.60" y="345.10" font-family='"Liberation Sans", sans-serif' font-size="15" fill="#14149c" text-anchor="middle" font-weight="bold" font-style="normal" >leány háló</text>
<text x="499.60" y="359.40" font-family='"Liberation Sans", sans-serif' font-size="11.75" fill="#3c3c92" text-anchor="middle" font-weight="normal" font-style="normal" >laminált</text>
<text x="499.60" y="372.60" font-family='"Liberation Sans", sans-serif' font-size="11.75" fill="#3c3c92" text-anchor="middle" font-weight="normal" font-style="normal" >12,00 m<tspan dy="-4" font-size="8">2</tspan></text>
<text x="660.30" y="346.10" font-family='"Liberation Sans", sans-serif' font-size="15" fill="#14149c" text-anchor="middle" font-weight="bold" font-style="normal" >fürdő</text>
<text x="660.30" y="360.20" font-family='"Liberation Sans", sans-serif' font-size="11.75" fill="#3c3c92" text-anchor="middle" font-weight="normal" font-style="normal" >gres</text>
<text x="660.30" y="373.60" font-family='"Liberation Sans", sans-serif' font-size="11.75" fill="#3c3c92" text-anchor="middle" font-weight="normal" font-style="normal" >6,79 m<tspan dy="-4" font-size="8">2</tspan></text>
<text x="742.00" y="346.50" font-family='"Liberation Sans", sans-serif' font-size="15" fill="#14149c" text-anchor="middle" font-weight="bold" font-style="normal" >wc</text>
<text x="742.00" y="360.20" font-family='"Liberation Sans", sans-serif' font-size="11.75" fill="#3c3c92" text-anchor="middle" font-weight="normal" font-style="normal" >gres</text>
<text x="742.00" y="373.60" font-family='"Liberation Sans", sans-serif' font-size="11.75" fill="#3c3c92" text-anchor="middle" font-weight="normal" font-style="normal" >2,87 m<tspan dy="-4" font-size="8">2</tspan></text>
<text x="806.20" y="332.00" font-family='"Liberation Sans", sans-serif' font-size="15" fill="#14149c" text-anchor="middle" font-weight="bold" font-style="normal" >háztart</text>
<text x="806.20" y="345.90" font-family='"Liberation Sans", sans-serif' font-size="11.75" fill="#3c3c92" text-anchor="middle" font-weight="normal" font-style="normal" >gres</text>
<text x="806.20" y="359.60" font-family='"Liberation Sans", sans-serif' font-size="11.75" fill="#3c3c92" text-anchor="middle" font-weight="normal" font-style="normal" >5,07 m<tspan dy="-4" font-size="8">2</tspan></text>
<text x="933.20" y="334.80" font-family='"Liberation Sans", sans-serif' font-size="15" fill="#14149c" text-anchor="middle" font-weight="bold" font-style="normal" >konyha</text>
<text x="933.20" y="349.00" font-family='"Liberation Sans", sans-serif' font-size="11.75" fill="#3c3c92" text-anchor="middle" font-weight="normal" font-style="normal" >gres</text>
<text x="933.20" y="363.10" font-family='"Liberation Sans", sans-serif' font-size="11.75" fill="#3c3c92" text-anchor="middle" font-weight="normal" font-style="normal" >8,58 m<tspan dy="-4" font-size="8">2</tspan></text>
<text x="652.30" y="436.00" font-family='"Liberation Sans", sans-serif' font-size="15" fill="#3434b4" text-anchor="middle" font-weight="bold" font-style="normal" >közlekedő</text>
<text x="652.30" y="449.80" font-family='"Liberation Sans", sans-serif' font-size="11.75" fill="#3c3c92" text-anchor="middle" font-weight="normal" font-style="normal" >gres</text>
<text x="652.30" y="462.50" font-family='"Liberation Sans", sans-serif' font-size="11.75" fill="#3c3c92" text-anchor="middle" font-weight="normal" font-style="normal" >7,27 m<tspan dy="-4" font-size="8">2</tspan></text>
<text x="460.60" y="453.80" font-family='"Liberation Sans", sans-serif' font-size="15" fill="#14149c" text-anchor="middle" font-weight="bold" font-style="normal" >szülői háló</text>
<text x="460.60" y="468.50" font-family='"Liberation Sans", sans-serif' font-size="11.75" fill="#3c3c92" text-anchor="middle" font-weight="normal" font-style="normal" >laminált</text>
<text x="460.60" y="482.20" font-family='"Liberation Sans", sans-serif' font-size="11.75" fill="#3c3c92" text-anchor="middle" font-weight="normal" font-style="normal" >13,03 m<tspan dy="-4" font-size="8">2</tspan></text>
<text x="638.50" y="511.30" font-family='"Liberation Sans", sans-serif' font-size="15" fill="#14149c" text-anchor="middle" font-weight="bold" font-style="normal" >fiú háló</text>
<text x="638.50" y="526.00" font-family='"Liberation Sans", sans-serif' font-size="11.75" fill="#3c3c92" text-anchor="middle" font-weight="normal" font-style="normal" >laminált</text>
<text x="638.50" y="539.70" font-family='"Liberation Sans", sans-serif' font-size="11.75" fill="#3c3c92" text-anchor="middle" font-weight="normal" font-style="normal" >12,09 m<tspan dy="-4" font-size="8">2</tspan></text>
<text x="805.50" y="513.60" font-family='"Liberation Sans", sans-serif' font-size="15" fill="#14149c" text-anchor="middle" font-weight="bold" font-style="normal" >szélfogó</text>
<text x="805.50" y="528.10" font-family='"Liberation Sans", sans-serif' font-size="11.75" fill="#3c3c92" text-anchor="middle" font-weight="normal" font-style="normal" >gres</text>
<text x="805.50" y="541.70" font-family='"Liberation Sans", sans-serif' font-size="11.75" fill="#3c3c92" text-anchor="middle" font-weight="normal" font-style="normal" >4,65 m<tspan dy="-4" font-size="8">2</tspan></text>
<text x="911.30" y="529.40" font-family='"Liberation Sans", sans-serif' font-size="15" fill="#14149c" text-anchor="middle" font-weight="bold" font-style="normal" >nappali</text>
<text x="911.30" y="547.20" font-family='"Liberation Sans", sans-serif' font-size="15" fill="#14149c" text-anchor="middle" font-weight="bold" font-style="normal" >- étkező</text>
<text x="911.30" y="561.00" font-family='"Liberation Sans", sans-serif' font-size="11.75" fill="#3c3c92" text-anchor="middle" font-weight="normal" font-style="normal" >laminált</text>
<text x="911.30" y="575.00" font-family='"Liberation Sans", sans-serif' font-size="11.75" fill="#3c3c92" text-anchor="middle" font-weight="normal" font-style="normal" >21,08 m<tspan dy="-4" font-size="8">2</tspan></text>
<text x="1106.00" y="459.10" font-family='"Liberation Sans", sans-serif' font-size="17.6" fill="#14149c" text-anchor="middle" font-weight="bold" font-style="normal" >terasz</text>
<text x="1106.00" y="473.50" font-family='"Liberation Sans", sans-serif' font-size="12" fill="#3c3c92" text-anchor="middle" font-weight="normal" font-style="normal" >simitott beton</text>
<text x="1106.00" y="487.60" font-family='"Liberation Sans", sans-serif' font-size="12" fill="#3c3c92" text-anchor="middle" font-weight="normal" font-style="normal" >16,78 m<tspan dy="-4" font-size="8">2</tspan></text>
<text x="633.30" y="651.20" font-family='"Liberation Sans", sans-serif' font-size="15" fill="#14149c" text-anchor="middle" font-weight="bold" font-style="normal" >fedett belépő</text>
<text x="633.30" y="665.60" font-family='"Liberation Sans", sans-serif' font-size="11.75" fill="#3c3c92" text-anchor="middle" font-weight="normal" font-style="normal" >fagyálló gres</text>
<text x="633.30" y="678.50" font-family='"Liberation Sans", sans-serif' font-size="11.75" fill="#3c3c92" text-anchor="middle" font-weight="normal" font-style="normal" >3,58 m<tspan dy="-4" font-size="8">2</tspan></text>
<text x="562.3" y="146.7" font-family='"Liberation Serif", serif' font-size="21.5" font-weight="bold" fill="#111" stroke="#fff" stroke-width="0.35" paint-order="stroke" textLength="331" lengthAdjust="spacingAndGlyphs">FÖLDSZINTI ALAPRAJZ&#160;&#160;&#160; M - 1:100</text>
<text x="135.90" y="633.60" font-family='"Liberation Sans", sans-serif' font-size="12.15" fill="#222" text-anchor="start" font-weight="normal" font-style="normal" >Nappali étkező</text>
<text x="298.50" y="633.60" font-family='"Liberation Sans", sans-serif' font-size="12.15" fill="#222" text-anchor="end" font-weight="normal" font-style="normal" >21,08</text>
<text x="311.60" y="633.60" font-family='"Liberation Sans", sans-serif' font-size="12.15" fill="#222" text-anchor="start" font-weight="normal" font-style="normal" >m<tspan dy="-4.5" font-size="8.5">2</tspan></text>
<text x="135.90" y="648.02" font-family='"Liberation Sans", sans-serif' font-size="12.15" fill="#222" text-anchor="start" font-weight="normal" font-style="normal" >Szülői háló</text>
<text x="298.50" y="648.02" font-family='"Liberation Sans", sans-serif' font-size="12.15" fill="#222" text-anchor="end" font-weight="normal" font-style="normal" >13,03</text>
<text x="311.60" y="648.02" font-family='"Liberation Sans", sans-serif' font-size="12.15" fill="#222" text-anchor="start" font-weight="normal" font-style="normal" >m<tspan dy="-4.5" font-size="8.5">2</tspan></text>
<text x="135.90" y="662.44" font-family='"Liberation Sans", sans-serif' font-size="12.15" fill="#222" text-anchor="start" font-weight="normal" font-style="normal" >Fiú háló</text>
<text x="298.50" y="662.44" font-family='"Liberation Sans", sans-serif' font-size="12.15" fill="#222" text-anchor="end" font-weight="normal" font-style="normal" >12,09</text>
<text x="311.60" y="662.44" font-family='"Liberation Sans", sans-serif' font-size="12.15" fill="#222" text-anchor="start" font-weight="normal" font-style="normal" >m<tspan dy="-4.5" font-size="8.5">2</tspan></text>
<text x="135.90" y="676.86" font-family='"Liberation Sans", sans-serif' font-size="12.15" fill="#222" text-anchor="start" font-weight="normal" font-style="normal" >Leány háló</text>
<text x="298.50" y="676.86" font-family='"Liberation Sans", sans-serif' font-size="12.15" fill="#222" text-anchor="end" font-weight="normal" font-style="normal" >12,00</text>
<text x="311.60" y="676.86" font-family='"Liberation Sans", sans-serif' font-size="12.15" fill="#222" text-anchor="start" font-weight="normal" font-style="normal" >m<tspan dy="-4.5" font-size="8.5">2</tspan></text>
<text x="135.90" y="691.28" font-family='"Liberation Sans", sans-serif' font-size="12.15" fill="#222" text-anchor="start" font-weight="normal" font-style="normal" >Fürdő</text>
<text x="298.50" y="691.28" font-family='"Liberation Sans", sans-serif' font-size="12.15" fill="#222" text-anchor="end" font-weight="normal" font-style="normal" >6,79</text>
<text x="311.60" y="691.28" font-family='"Liberation Sans", sans-serif' font-size="12.15" fill="#222" text-anchor="start" font-weight="normal" font-style="normal" >m<tspan dy="-4.5" font-size="8.5">2</tspan></text>
<text x="135.90" y="705.70" font-family='"Liberation Sans", sans-serif' font-size="12.15" fill="#222" text-anchor="start" font-weight="normal" font-style="normal" >Szélfogó</text>
<text x="298.50" y="705.70" font-family='"Liberation Sans", sans-serif' font-size="12.15" fill="#222" text-anchor="end" font-weight="normal" font-style="normal" >4,65</text>
<text x="311.60" y="705.70" font-family='"Liberation Sans", sans-serif' font-size="12.15" fill="#222" text-anchor="start" font-weight="normal" font-style="normal" >m<tspan dy="-4.5" font-size="8.5">2</tspan></text>
<text x="135.90" y="720.12" font-family='"Liberation Sans", sans-serif' font-size="12.15" fill="#222" text-anchor="start" font-weight="normal" font-style="normal" >Közlekedő</text>
<text x="298.50" y="720.12" font-family='"Liberation Sans", sans-serif' font-size="12.15" fill="#222" text-anchor="end" font-weight="normal" font-style="normal" >7,27</text>
<text x="311.60" y="720.12" font-family='"Liberation Sans", sans-serif' font-size="12.15" fill="#222" text-anchor="start" font-weight="normal" font-style="normal" >m<tspan dy="-4.5" font-size="8.5">2</tspan></text>
<text x="135.90" y="734.54" font-family='"Liberation Sans", sans-serif' font-size="12.15" fill="#222" text-anchor="start" font-weight="normal" font-style="normal" >Konyha</text>
<text x="298.50" y="734.54" font-family='"Liberation Sans", sans-serif' font-size="12.15" fill="#222" text-anchor="end" font-weight="normal" font-style="normal" >8,58</text>
<text x="311.60" y="734.54" font-family='"Liberation Sans", sans-serif' font-size="12.15" fill="#222" text-anchor="start" font-weight="normal" font-style="normal" >m<tspan dy="-4.5" font-size="8.5">2</tspan></text>
<text x="135.90" y="748.96" font-family='"Liberation Sans", sans-serif' font-size="12.15" fill="#222" text-anchor="start" font-weight="normal" font-style="normal" >Háztartási helyiség</text>
<text x="298.50" y="748.96" font-family='"Liberation Sans", sans-serif' font-size="12.15" fill="#222" text-anchor="end" font-weight="normal" font-style="normal" >5,07</text>
<text x="311.60" y="748.96" font-family='"Liberation Sans", sans-serif' font-size="12.15" fill="#222" text-anchor="start" font-weight="normal" font-style="normal" >m<tspan dy="-4.5" font-size="8.5">2</tspan></text>
<text x="135.90" y="763.38" font-family='"Liberation Sans", sans-serif' font-size="12.15" fill="#222" text-anchor="start" font-weight="normal" font-style="normal" >WC</text>
<text x="298.50" y="763.38" font-family='"Liberation Sans", sans-serif' font-size="12.15" fill="#222" text-anchor="end" font-weight="normal" font-style="normal" >2,87</text>
<text x="311.60" y="763.38" font-family='"Liberation Sans", sans-serif' font-size="12.15" fill="#222" text-anchor="start" font-weight="normal" font-style="normal" >m<tspan dy="-4.5" font-size="8.5">2</tspan></text>
<text x="135.90" y="791.80" font-family='"Liberation Sans", sans-serif' font-size="12.15" fill="#222" text-anchor="start" font-weight="normal" font-style="normal" >Összesen:</text>
<text x="298.50" y="791.80" font-family='"Liberation Sans", sans-serif' font-size="12.15" fill="#222" text-anchor="end" font-weight="normal" font-style="normal" >93,43</text>
<text x="311.60" y="791.80" font-family='"Liberation Sans", sans-serif' font-size="12.15" fill="#222" text-anchor="start" font-weight="normal" font-style="normal" >m<tspan dy="-4.5" font-size="8.5">2</tspan></text>
<text x="689.40" y="766.00" font-family='"Liberation Sans", sans-serif' font-size="15.05" fill="#5b5bc8" text-anchor="end" font-weight="bold" font-style="italic" >lakás&#160; 93,43 m2&#160; terasz 16,78 m2</text>
<text x="689.40" y="782.80" font-family='"Liberation Sans", sans-serif' font-size="15.05" fill="#5b5bc8" text-anchor="end" font-weight="bold" font-style="italic" >fedett belépő 3,58 m2</text>
<text x="759.00" y="777.50" font-family='"Liberation Sans", sans-serif' font-size="12" fill="#5b5bc8" text-anchor="start" font-weight="bold" font-style="normal" >Lakóépület építése</text>
<text x="759.70" y="796.50" font-family='"Liberation Sans", sans-serif' font-size="12" fill="#5b5bc8" text-anchor="start" font-weight="normal" font-style="normal" >építtető: Keli Új Házak Építője Kft.</text>
<text x="759.70" y="816.00" font-family='"Liberation Sans", sans-serif' font-size="12" fill="#222" text-anchor="start" font-weight="normal" font-style="normal" >Valkó, Vörösmarty utca</text>
<text x="759.00" y="835.70" font-family='"Liberation Sans", sans-serif' font-size="12" fill="#222" text-anchor="start" font-weight="normal" font-style="normal" >tervező:&#160; Nagy László&#160; építész</text>
<text x="1059.80" y="777.50" font-family='"Liberation Sans", sans-serif' font-size="12" fill="#5b5bc8" text-anchor="start" font-weight="bold" font-style="normal" >Bejelentési terv</text>
<text x="1060.00" y="796.50" font-family='"Liberation Sans", sans-serif' font-size="12" fill="#5b5bc8" text-anchor="start" font-weight="normal" font-style="normal" >2026. január</text>
<text x="1051.90" y="816.00" font-family='"Liberation Sans", sans-serif' font-size="12" fill="#222" text-anchor="start" font-weight="normal" font-style="normal" >Hrsz.:645/8&#160; 1076 m2</text>
<text x="1067.70" y="835.70" font-family='"Liberation Sans", sans-serif' font-size="12" fill="#222" text-anchor="start" font-weight="normal" font-style="normal" >É 01 - 1620 / 26</text>
<text x="1090.3" y="754.9" font-family='"Liberation Serif", serif' font-size="28" font-weight="bold" fill="#5b5bd0" textLength="54" lengthAdjust="spacingAndGlyphs">É - 1</text>
<text x="1054.6" y="525.7" font-family='"Liberation Serif", serif' font-size="32" font-weight="bold" fill="#5c5cd6">B</text>
<circle cx="1117.3" cy="657.8" r="39.5" fill="#fff" stroke="#111" stroke-width="1.5"/>
<circle cx="1117.3" cy="657.8" r="35.1" fill="none" stroke="#111" stroke-width="1.3"/>
<polygon points="1095.2,626.4 1125.8,691.8 1138.6,687.2" fill="#111"/>
<line x1="1095.2" y1="626.4" x2="1148.4" y2="675.3" stroke="#111" stroke-width="0.8"/>
<polygon points="1138.4,687.2 1148.2,675.3 1152,678 1140.6,690.6" fill="#111"/>
<circle cx="574.6" cy="366.5" r="6.5" fill="#fff" stroke="#222" stroke-width="0.8"/>
<path d="M574.6,366.5 L574.6,360.0 A6.5,6.5 0 0 1 581.1,366.5 Z M574.6,366.5 L574.6,373.0 A6.5,6.5 0 0 1 568.1,366.5 Z" fill="#111"/>
<line x1="561.20" y1="366.50" x2="588.20" y2="366.50" stroke="#222" stroke-width="0.9" />
<line x1="574.60" y1="353.10" x2="574.60" y2="379.90" stroke="#222" stroke-width="0.9" />
<text x="536.00" y="356.40" font-family='"Liberation Sans", sans-serif' font-size="12" fill="#333" text-anchor="start" font-weight="normal" font-style="normal" >+0,35</text>
<circle cx="741" cy="460.5" r="6.5" fill="#fff" stroke="#222" stroke-width="0.8"/>
<path d="M741,460.5 L741,454.0 A6.5,6.5 0 0 1 747.5,460.5 Z M741,460.5 L741,467.0 A6.5,6.5 0 0 1 734.5,460.5 Z" fill="#111"/>
<line x1="727.60" y1="460.50" x2="754.60" y2="460.50" stroke="#222" stroke-width="0.9" />
<line x1="741.00" y1="447.10" x2="741.00" y2="473.90" stroke="#222" stroke-width="0.9" />
<text x="703.50" y="451.00" font-family='"Liberation Sans", sans-serif' font-size="12" fill="#333" text-anchor="start" font-weight="normal" font-style="normal" >+0,35</text>
<circle cx="656.9" cy="582" r="6.5" fill="#fff" stroke="#222" stroke-width="0.8"/>
<path d="M656.9,582 L656.9,575.5 A6.5,6.5 0 0 1 663.4,582 Z M656.9,582 L656.9,588.5 A6.5,6.5 0 0 1 650.4,582 Z" fill="#111"/>
<line x1="643.50" y1="582.00" x2="670.50" y2="582.00" stroke="#222" stroke-width="0.9" />
<line x1="656.90" y1="568.60" x2="656.90" y2="595.40" stroke="#222" stroke-width="0.9" />
<text x="619.00" y="574.50" font-family='"Liberation Sans", sans-serif' font-size="12" fill="#333" text-anchor="start" font-weight="normal" font-style="normal" >±0,35</text>
<circle cx="822.5" cy="628.7" r="6.5" fill="#fff" stroke="#222" stroke-width="0.8"/>
<path d="M822.5,628.7 L822.5,622.2 A6.5,6.5 0 0 1 829.0,628.7 Z M822.5,628.7 L822.5,635.2 A6.5,6.5 0 0 1 816.0,628.7 Z" fill="#111"/>
<line x1="809.10" y1="628.70" x2="836.10" y2="628.70" stroke="#222" stroke-width="0.9" />
<line x1="822.50" y1="615.30" x2="822.50" y2="642.10" stroke="#222" stroke-width="0.9" />
<text x="785.00" y="618.50" font-family='"Liberation Sans", sans-serif' font-size="12" fill="#333" text-anchor="start" font-weight="normal" font-style="normal" >+0,30</text>
<circle cx="1124.7" cy="376.3" r="6.5" fill="#fff" stroke="#222" stroke-width="0.8"/>
<path d="M1124.7,376.3 L1124.7,369.8 A6.5,6.5 0 0 1 1131.2,376.3 Z M1124.7,376.3 L1124.7,382.8 A6.5,6.5 0 0 1 1118.2,376.3 Z" fill="#111"/>
<line x1="1111.30" y1="376.30" x2="1138.30" y2="376.30" stroke="#222" stroke-width="0.9" />
<line x1="1124.70" y1="362.90" x2="1124.70" y2="389.70" stroke="#222" stroke-width="0.9" />
<text x="1086.50" y="366.00" font-family='"Liberation Sans", sans-serif' font-size="12" fill="#333" text-anchor="start" font-weight="normal" font-style="normal" >+0,30</text></svg></body></html>
